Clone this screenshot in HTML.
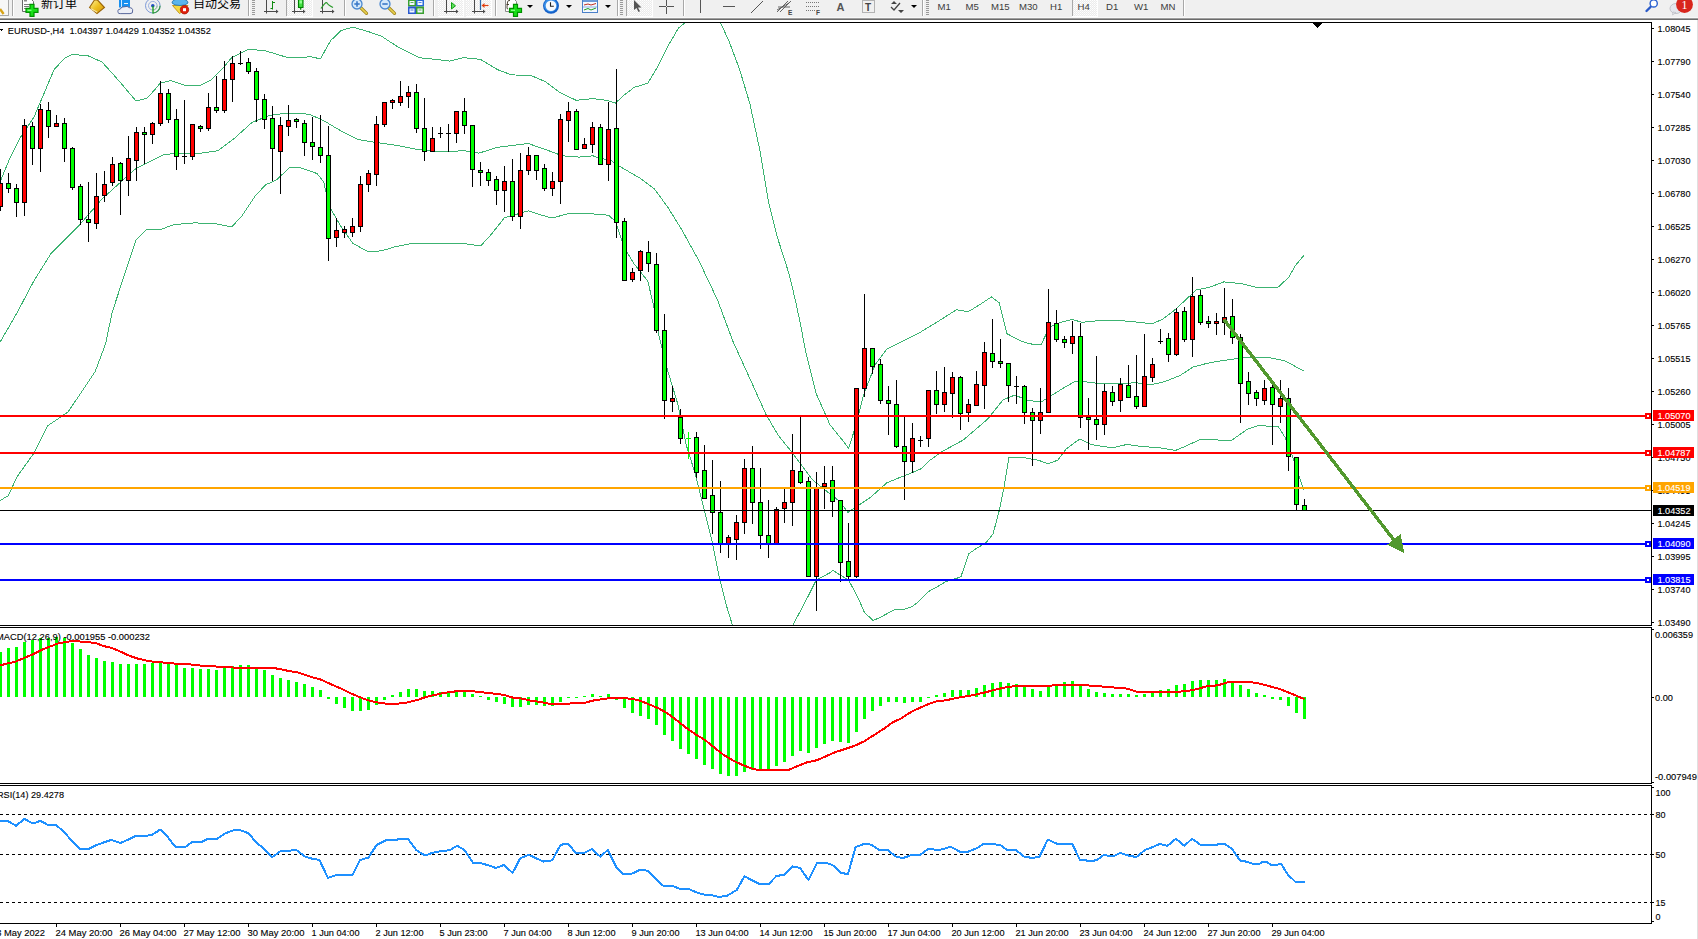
<!DOCTYPE html>
<html><head><meta charset="utf-8"><title>EURUSD-,H4</title>
<style>html,body{margin:0;padding:0;background:#fff;width:1698px;height:939px;overflow:hidden}svg{display:block}text{shape-rendering:auto}</style>
</head><body>
<svg width="1698" height="939" viewBox="0 0 1698 939" shape-rendering="crispEdges">
<rect x="0" y="0" width="1698" height="939" fill="#fff"/>
<g shape-rendering="geometricPrecision">
<rect x="0" y="0" width="1698" height="17" fill="#f0f0f0"/>
<rect x="0" y="17" width="1698" height="1" fill="#f8f8f8"/>
<rect x="0" y="18" width="1698" height="1" fill="#a0a0a0"/>
<rect x="0" y="19" width="1698" height="1" fill="#6b6b6b"/>
<rect x="12" y="0" width="1" height="16" fill="#a8a8a8"/>
<rect x="13" y="0" width="1" height="16" fill="#ffffff"/>
<rect x="248" y="0" width="1" height="16" fill="#a8a8a8"/>
<rect x="249" y="0" width="1" height="16" fill="#ffffff"/>
<rect x="286" y="0" width="1" height="16" fill="#a8a8a8"/>
<rect x="287" y="0" width="1" height="16" fill="#ffffff"/>
<rect x="344" y="0" width="1" height="16" fill="#a8a8a8"/>
<rect x="345" y="0" width="1" height="16" fill="#ffffff"/>
<rect x="433" y="0" width="1" height="16" fill="#a8a8a8"/>
<rect x="434" y="0" width="1" height="16" fill="#ffffff"/>
<rect x="438" y="0" width="1" height="16" fill="#a8a8a8"/>
<rect x="439" y="0" width="1" height="16" fill="#ffffff"/>
<rect x="466" y="0" width="1" height="16" fill="#a8a8a8"/>
<rect x="467" y="0" width="1" height="16" fill="#ffffff"/>
<rect x="495" y="0" width="1" height="16" fill="#a8a8a8"/>
<rect x="496" y="0" width="1" height="16" fill="#ffffff"/>
<rect x="617" y="0" width="1" height="16" fill="#a8a8a8"/>
<rect x="618" y="0" width="1" height="16" fill="#ffffff"/>
<rect x="626" y="0" width="1" height="16" fill="#a8a8a8"/>
<rect x="627" y="0" width="1" height="16" fill="#ffffff"/>
<rect x="683" y="0" width="1" height="16" fill="#a8a8a8"/>
<rect x="684" y="0" width="1" height="16" fill="#ffffff"/>
<rect x="922" y="0" width="1" height="16" fill="#a8a8a8"/>
<rect x="923" y="0" width="1" height="16" fill="#ffffff"/>
<rect x="1183" y="0" width="1" height="16" fill="#a8a8a8"/>
<rect x="1184" y="0" width="1" height="16" fill="#ffffff"/>
<rect x="252" y="0" width="3" height="1" fill="#9a9a9a"/>
<rect x="252" y="2" width="3" height="1" fill="#9a9a9a"/>
<rect x="252" y="4" width="3" height="1" fill="#9a9a9a"/>
<rect x="252" y="6" width="3" height="1" fill="#9a9a9a"/>
<rect x="252" y="8" width="3" height="1" fill="#9a9a9a"/>
<rect x="252" y="10" width="3" height="1" fill="#9a9a9a"/>
<rect x="252" y="12" width="3" height="1" fill="#9a9a9a"/>
<rect x="252" y="14" width="3" height="1" fill="#9a9a9a"/>
<rect x="620" y="0" width="3" height="1" fill="#9a9a9a"/>
<rect x="620" y="2" width="3" height="1" fill="#9a9a9a"/>
<rect x="620" y="4" width="3" height="1" fill="#9a9a9a"/>
<rect x="620" y="6" width="3" height="1" fill="#9a9a9a"/>
<rect x="620" y="8" width="3" height="1" fill="#9a9a9a"/>
<rect x="620" y="10" width="3" height="1" fill="#9a9a9a"/>
<rect x="620" y="12" width="3" height="1" fill="#9a9a9a"/>
<rect x="620" y="14" width="3" height="1" fill="#9a9a9a"/>
<rect x="926" y="0" width="3" height="1" fill="#9a9a9a"/>
<rect x="926" y="2" width="3" height="1" fill="#9a9a9a"/>
<rect x="926" y="4" width="3" height="1" fill="#9a9a9a"/>
<rect x="926" y="6" width="3" height="1" fill="#9a9a9a"/>
<rect x="926" y="8" width="3" height="1" fill="#9a9a9a"/>
<rect x="926" y="10" width="3" height="1" fill="#9a9a9a"/>
<rect x="926" y="12" width="3" height="1" fill="#9a9a9a"/>
<rect x="926" y="14" width="3" height="1" fill="#9a9a9a"/>
<defs><pattern id="chk" x="0" y="0" width="2" height="2" patternUnits="userSpaceOnUse"><rect width="2" height="2" fill="#ececec"/><rect width="1" height="1" fill="#ffffff"/><rect x="1" y="1" width="1" height="1" fill="#f8f8f8"/></pattern></defs>
<rect x="287" y="0" width="25" height="16" fill="url(#chk)"/>
<rect x="312" y="0" width="1" height="17" fill="#ffffff"/><rect x="287" y="16" width="25" height="1" fill="#ffffff"/>
<rect x="438" y="0" width="25" height="16" fill="url(#chk)"/>
<rect x="463" y="0" width="1" height="17" fill="#ffffff"/><rect x="438" y="16" width="25" height="1" fill="#ffffff"/>
<rect x="466" y="0" width="25" height="16" fill="url(#chk)"/>
<rect x="491" y="0" width="1" height="17" fill="#ffffff"/><rect x="466" y="16" width="25" height="1" fill="#ffffff"/>
<rect x="627" y="0" width="25" height="16" fill="url(#chk)"/>
<rect x="652" y="0" width="1" height="17" fill="#ffffff"/><rect x="627" y="16" width="25" height="1" fill="#ffffff"/>
<rect x="1072" y="0" width="25" height="16" fill="url(#chk)"/>
<rect x="1097" y="0" width="1" height="17" fill="#ffffff"/><rect x="1072" y="16" width="25" height="1" fill="#ffffff"/>
<rect x="1072" y="0" width="1" height="16" fill="#a8a8a8"/>
<rect x="-4" y="-1" width="12.5" height="16.5" fill="#f7f7f7" stroke="#a8a8a8"/>
<path d="M0 9 L3.6 14" stroke="#d8a418" stroke-width="2.4"/>
<path d="M22.5 -1 H31 L33.5 1.5 V11.5 H22.5 Z" fill="#fff" stroke="#6a6a6a"/>
<rect x="24" y="-1" width="3" height="2.5" fill="#8a8a8a"/>
<path d="M24 4.5 H30 M24 6.5 H29 M24 8.5 H27" stroke="#7a7a7a"/>
<path d="M30 4.3 L34 4.3 L34 8.3 L38 8.3 L38 12.3 L34 12.3 L34 16.3 L30 16.3 L30 12.3 L26 12.3 L26 8.3 L30 8.3 Z" fill="#18e018" stroke="#009000" stroke-width="1.2"/>
<path d="M27.5 10.3 H31.5" stroke="#90ff90" stroke-width="1.2"/>
<text x="41" y="8.3" font-family="'Liberation Sans', 'Noto Sans CJK SC', 'WenQuanYi Zen Hei', sans-serif" font-size="12" fill="#000">新订单</text>
<defs><linearGradient id="gg" x1="0" y1="0" x2="1" y2="1"><stop offset="0" stop-color="#fff4a0"/><stop offset="0.5" stop-color="#eec020"/><stop offset="1" stop-color="#d09010"/></linearGradient></defs>
<path d="M89.5 7.5 L94.5 0 L97.5 0 L104.5 7.5 L97 13.5 Z" fill="url(#gg)" stroke="#9a6508" stroke-width="1.1"/>
<path d="M90.8 8.6 L97.2 12.3" stroke="#f8e6a0" stroke-width="1.2"/>
<rect x="119" y="-1" width="11" height="8.5" fill="#1890f0"/>
<path d="M121.5 0 V7" stroke="#e8f4ff" stroke-width="0.9"/><path d="M124 3.5 H128" stroke="#e8f4ff"/>
<path d="M118.3 12.8 Q116.8 9.3 120.2 9.2 Q121.2 6.2 125 6.7 Q127.2 5.6 129.2 7.6 Q133.2 7.8 132.6 11 Q133.2 13.6 130 13.6 H120.2 Q118 13.6 118.3 12.8 Z" fill="#eceff6" stroke="#4a5a92" stroke-width="0.9"/>
<circle cx="152.8" cy="5.7" r="7.3" fill="none" stroke="#7d9ad8" stroke-width="1"/>
<circle cx="152.8" cy="5.7" r="4.3" fill="none" stroke="#9ab0e0" stroke-width="1"/>
<path d="M152.8 13 A7.3 7.3 0 0 0 160.1 5.7" fill="none" stroke="#3a9a4a" stroke-width="1.2"/>
<path d="M152.8 10 A4.3 4.3 0 0 0 157.1 5.7" fill="none" stroke="#90c890" stroke-width="1"/>
<circle cx="152.8" cy="5.7" r="1.8" fill="#2050c0"/>
<path d="M153 6 V13.5" stroke="#18a018" stroke-width="1.3"/>
<path d="M172.5 5.5 L188 5.5 L183 11 L179.5 13.5 Z" fill="#f4d840" stroke="#c09010" stroke-width="0.9"/>
<path d="M172 3 Q172 -1 180 -1 Q188 -1 188 3 Q186 5.5 180 5.5 Q174 5.5 172 3 Z" fill="#5ab4ec" stroke="#2a7ab0" stroke-width="0.9"/>
<circle cx="184.5" cy="9.7" r="4.2" fill="#e0200c" stroke="#a81808" stroke-width="0.8"/>
<rect x="183" y="8.2" width="3" height="3" fill="#fff"/>
<text x="193" y="8.3" font-family="'Liberation Sans', 'Noto Sans CJK SC', 'WenQuanYi Zen Hei', sans-serif" font-size="12" fill="#000">自动交易</text>
<path d="M266.5 0 V13.5 M264 11.5 H278" stroke="#4a4a4a" stroke-width="1"/>
<path d="M276 9.5 L278.5 11.5 L276 13.5 Z" fill="#4a4a4a"/>
<path d="M272.5 1 V9.5 M270.5 8.5 H272.5 M272.5 2.5 H275" stroke="#108a10" stroke-width="1"/>
<path d="M294.5 0 V13.5 M292 11.5 H305" stroke="#4a4a4a" stroke-width="1"/>
<path d="M303 9.5 L305.5 11.5 L303 13.5 Z" fill="#4a4a4a"/>
<rect x="298.5" y="-1" width="4.5" height="8.5" fill="#40e040" stroke="#008000" stroke-width="1.1"/>
<rect x="299.5" y="0.5" width="2.5" height="3" fill="#90ff90"/>
<path d="M300.7 7.5 V9.8" stroke="#008000" stroke-width="1.2"/>
<path d="M322.5 0 V13.5 M320 11.5 H334" stroke="#4a4a4a" stroke-width="1"/>
<path d="M332 9.5 L334.5 11.5 L332 13.5 Z" fill="#4a4a4a"/>
<path d="M321 8.5 Q326 1 327 3 T333 7.5" fill="none" stroke="#2a9a2a" stroke-width="1.2"/>
<path d="M360.5 7.5 L366.5 13.3" stroke="#a08418" stroke-width="3.2" stroke-linecap="round"/>
<path d="M360.5 7.5 L366.5 13.3" stroke="#e8d050" stroke-width="1.6" stroke-linecap="round"/>
<circle cx="357" cy="4" r="5" fill="#d4e8fa" stroke="#4a88d0" stroke-width="1.3"/>
<path d="M354.3 4 H359.7" stroke="#3a78c8" stroke-width="1.6"/>
<path d="M357 1.3 V6.7" stroke="#3a78c8" stroke-width="1.6"/>
<path d="M388.5 7.5 L394.5 13.3" stroke="#a08418" stroke-width="3.2" stroke-linecap="round"/>
<path d="M388.5 7.5 L394.5 13.3" stroke="#e8d050" stroke-width="1.6" stroke-linecap="round"/>
<circle cx="385" cy="4" r="5" fill="#d4e8fa" stroke="#4a88d0" stroke-width="1.3"/>
<path d="M382.3 4 H387.7" stroke="#3a78c8" stroke-width="1.6"/>
<rect x="408" y="-1" width="8" height="7.5" fill="#3aa030"/>
<rect x="409.5" y="1" width="5" height="4" fill="#f4f8ff"/>
<path d="M410.5 2.5 H413.5" stroke="#3aa030" stroke-width="0.8"/>
<rect x="416" y="-1" width="8" height="7.5" fill="#2a6ad8"/>
<rect x="417.5" y="1" width="5" height="4" fill="#f4f8ff"/>
<path d="M418.5 2.5 H421.5" stroke="#2a6ad8" stroke-width="0.8"/>
<rect x="408" y="6.5" width="8" height="7.5" fill="#2a5ad0"/>
<rect x="409.5" y="8.5" width="5" height="4" fill="#f4f8ff"/>
<path d="M410.5 10.0 H413.5" stroke="#2a5ad0" stroke-width="0.8"/>
<rect x="416" y="6.5" width="8" height="7.5" fill="#3aa030"/>
<rect x="417.5" y="8.5" width="5" height="4" fill="#f4f8ff"/>
<path d="M418.5 10.0 H421.5" stroke="#3aa030" stroke-width="0.8"/>
<path d="M446.5 0 V13.5 M444 11.5 H458" stroke="#4a4a4a" stroke-width="1"/>
<path d="M456 9.5 L458.5 11.5 L456 13.5 Z" fill="#4a4a4a"/>
<path d="M451.5 2.5 L455.5 5.8 L451.5 9 Z" fill="#60e060" stroke="#10a010" stroke-width="1"/>
<path d="M474.5 0 V13.5 M472 11.5 H485" stroke="#4a4a4a" stroke-width="1"/>
<path d="M483 9.5 L485.5 11.5 L483 13.5 Z" fill="#4a4a4a"/>
<path d="M480.5 0 V10" stroke="#2a68a8" stroke-width="1.2"/><path d="M488.5 5.5 H482.5" stroke="#e04010" stroke-width="1.2"/><path d="M481.5 5.5 L484.5 3 L484.5 8 Z" fill="#e04010"/>
<path d="M505.5 -1 H514 L516.5 1.5 V11.5 H505.5 Z" fill="#fff" stroke="#8a8a8a"/>
<path d="M508 9 Q506.5 9 507 7 L507.5 2 Q508 0 510 0.5 M506.5 4.5 H509" fill="none" stroke="#3a3020" stroke-width="0.9"/>
<path d="M513.5 4.3 L517.5 4.3 L517.5 8.3 L521.5 8.3 L521.5 12.3 L517.5 12.3 L517.5 16.3 L513.5 16.3 L513.5 12.3 L509.5 12.3 L509.5 8.3 L513.5 8.3 Z" fill="#18e018" stroke="#009000" stroke-width="1.2"/>
<path d="M511 10.3 H515" stroke="#90ff90" stroke-width="1.2"/>
<path d="M527 5 H533 L530 8 Z" fill="#000"/>
<path d="M566 5 H572 L569 8 Z" fill="#000"/>
<path d="M605 5 H611 L608 8 Z" fill="#000"/>
<circle cx="551" cy="5.8" r="8" fill="#1560c8"/><circle cx="550.6" cy="5.4" r="6.6" fill="#3a90e8"/><circle cx="551" cy="5.8" r="5.3" fill="#f6f8fc"/>
<path d="M550.5 2.2 V6.2 H553.8" stroke="#222" stroke-width="1.1" fill="none"/>
<rect x="582.5" y="-0.5" width="15" height="13" fill="#f4f8ff" stroke="#4a80c8"/>
<rect x="583" y="0" width="14" height="2" fill="#6a9ad8"/>
<path d="M584 5 L588 4 L591 5 L596 3.5" stroke="#c03020" fill="none"/>
<path d="M584 10 L588 8.5 L591 10 L596 8" stroke="#20a020" fill="none"/>
<path d="M583 7 H597" stroke="#90b0e0"/>
<path d="M634 0 L634 10 L636.5 8 L638.5 12 L640 11.3 L638 7.5 L641.5 7.5 Z" fill="#555"/>
<path d="M659 6.5 H674 M666.5 0 V14" stroke="#555"/>
<rect x="666" y="6" width="1" height="1" fill="#f0f0f0"/>
<path d="M700.5 0 V13" stroke="#555"/>
<path d="M723 6.5 H735" stroke="#555"/>
<path d="M751 13 L763 1" stroke="#555"/>
<path d="M777 12 L788 1 M780 12 L791 1 M778 7 L790 7 M777 10 L789 3" stroke="#555" stroke-width="0.9"/>
<text x="788" y="15" font-family="'Liberation Sans', Arial, sans-serif" font-size="6.5" font-weight="bold" fill="#444">E</text>
<path d="M806 2.5 H819 M806 6.5 H819 M806 10.5 H816" stroke="#777" stroke-dasharray="1 1"/>
<text x="816" y="15" font-family="'Liberation Sans', Arial, sans-serif" font-size="6.5" font-weight="bold" fill="#444">F</text>
<text x="836.5" y="11" font-family="'Liberation Sans', Arial, sans-serif" font-size="11" font-weight="bold" fill="#555">A</text>
<rect x="862.5" y="0.5" width="12" height="12" fill="none" stroke="#777" stroke-dasharray="1 1"/>
<text x="865" y="10.5" font-family="'Liberation Sans', Arial, sans-serif" font-size="10" font-weight="bold" fill="#444">T</text>
<path d="M891 4 L894 1 L897 4 Z M898 10 L901 13 L904 10 Z" fill="#444"/>
<path d="M891 7 L894 10 L900 3" stroke="#444" fill="none" stroke-width="1.3"/>
<path d="M911 5 H917 L914 8 Z" fill="#000"/>
<text x="937.5" y="10.3" font-family="'Liberation Sans', Arial, sans-serif" font-size="9.6" fill="#3c3c3c">M1</text>
<text x="965.5" y="10.3" font-family="'Liberation Sans', Arial, sans-serif" font-size="9.6" fill="#3c3c3c">M5</text>
<text x="991" y="10.3" font-family="'Liberation Sans', Arial, sans-serif" font-size="9.6" fill="#3c3c3c">M15</text>
<text x="1019" y="10.3" font-family="'Liberation Sans', Arial, sans-serif" font-size="9.6" fill="#3c3c3c">M30</text>
<text x="1050" y="10.3" font-family="'Liberation Sans', Arial, sans-serif" font-size="9.6" fill="#3c3c3c">H1</text>
<text x="1077.5" y="10.3" font-family="'Liberation Sans', Arial, sans-serif" font-size="9.6" fill="#3c3c3c">H4</text>
<text x="1106" y="10.3" font-family="'Liberation Sans', Arial, sans-serif" font-size="9.6" fill="#3c3c3c">D1</text>
<text x="1134" y="10.3" font-family="'Liberation Sans', Arial, sans-serif" font-size="9.6" fill="#3c3c3c">W1</text>
<text x="1160.5" y="10.3" font-family="'Liberation Sans', Arial, sans-serif" font-size="9.6" fill="#3c3c3c">MN</text>
<path d="M1646.5 11 L1650.5 7" stroke="#2a5ac8" stroke-width="2.4" stroke-linecap="round"/>
<circle cx="1653.7" cy="3.4" r="3.6" fill="#fff" stroke="#2a60d0" stroke-width="1.4"/>
<ellipse cx="1676" cy="8.5" rx="6" ry="5" fill="#e4e6ec" stroke="#c0c2c8"/>
<path d="M1673 12 L1672.5 15 L1676 12.5 Z" fill="#e4e6ec" stroke="#c0c2c8" stroke-width="0.8"/>
<circle cx="1684.5" cy="4.6" r="8.4" fill="#d8261c"/>
<text x="1684.5" y="9" font-family="'Liberation Serif', serif" font-size="12" fill="#fff" text-anchor="middle">1</text>
</g>
<defs><clipPath id="cm"><rect x="0" y="23" width="1651" height="602"/></clipPath><clipPath id="cmacd"><rect x="0" y="628" width="1651" height="155"/></clipPath><clipPath id="crsi"><rect x="0" y="786" width="1651" height="137"/></clipPath></defs>
<g clip-path="url(#cm)">
<polyline points="0,182 10,158 20,138 34,117 44,93.5 54,69.7 65,57.7 73,54.3 88.5,56 102,62 112,73 122.5,85 136,101 146,98.6 150,95.2 160.2,83.3 170.4,80.6 184,85 201,85 211.3,79.9 221.5,69.7 231.7,57.7 248.7,49.2 265.7,50.9 286.2,57.1 300,57.7 310.2,56.7 320.4,58.8 330.6,40.7 340.9,30.5 352.8,27.1 368.1,31.5 381.7,36.3 398.7,47.5 419.1,57.7 436.2,59.4 449.8,61.1 463.6,57.7 480.6,59.4 497.7,69.7 511.3,74.8 531.7,75.8 545.3,81.6 558.9,91.8 576,100.3 593,98.6 606.8,100.4 615.3,103.1 623.9,95.3 634.1,87.4 647.7,83.3 657.9,66.3 668.1,45.9 678.4,28.1 688.6,20 704,8 719.3,20 729.5,42.4 739.7,69.7 749.9,103.8 760.1,151.5 768.7,202.6 777.2,236.7 789.1,274.1 795.3,300 800,321.8 805.7,351.9 816.1,393.4 829.9,424.6 843.8,441.9 848.5,448.3 855.5,427 863.3,395.9 875,364.9 886.6,349.3 902.1,341.6 917.7,333.8 937.1,322.1 956.5,309.7 968.2,311.7 979.8,304.7 991.5,296.9 999.2,302.7 1007,333.8 1022.5,341.6 1030,343.9 1041.1,344.7 1049.4,327.3 1060.5,322.5 1071.6,319.5 1082.6,322.3 1102,320.3 1124.2,320.9 1140.8,322.5 1151.9,323.9 1163,319 1174,310.6 1185.1,300.4 1196.2,289.9 1210,287.1 1223.8,281.9 1240.9,283.6 1257.9,287.7 1278.3,287 1288.6,277.5 1295.4,265.5 1303.9,255.3" fill="none" stroke="#3cb371" stroke-width="1"/>
<polyline points="0,342.3 18,311 34,280.7 51,253.5 78.3,226.3 102,199 136,168.4 150,161.6 163.6,154.8 177.2,153.1 194.3,154.1 218.1,150.7 235.1,137.7 252.1,122.4 269.1,115.6 286.2,113.2 300,113.2 310.2,114.6 323.8,120.7 340.9,130.9 357.9,139.4 371.5,141.8 395.3,145.2 419.1,149.7 436.2,151.4 450,151.4 463.6,150.7 478.9,153.1 497.7,147.3 528.3,143.5 548.7,150.7 562.3,155.8 579.4,157.1 593,155.8 600,158.3 610.2,160 620.4,166.8 640.9,178.7 654.5,189 668.1,207.7 681.8,229.8 698.8,260.5 717.5,300 733,341.5 750.3,379.6 765.9,414.2 778,435 791.9,452.2 802.2,466.1 812.6,479.9 829.9,493.8 840,501.6 847.8,512.4 859.4,504.7 871.1,496.9 886.6,483 900,477.4 907.7,474.5 921.1,468.8 928.8,461.1 942.2,451.5 963.3,440 987.6,419.2 1003.1,399.8 1014.8,395.1 1026.4,399.8 1030,400.7 1041.1,402 1052.2,395.1 1063.2,388.2 1074.3,381.8 1085.4,381.8 1099.3,383.5 1118.6,384 1135.3,382.7 1151.9,384.6 1165.7,381.3 1179.6,375.7 1193.4,366.9 1207.3,363.3 1220.4,360.9 1244.3,357.5 1268.1,357.5 1285.1,360.9 1303.9,371.1" fill="none" stroke="#3cb371" stroke-width="1"/>
<polyline points="0,500.6 8.5,495.5 17,476.8 34,453 47.7,425.7 68,412.1 81.7,391.7 95.3,371.3 105.5,344 112.3,312 122.5,280.7 136,239.9 146.4,229.7 150,229 160.2,229.7 173.8,224.6 194.3,222.9 214.7,223.5 231.7,226.9 241.9,216 255.5,195.6 265.7,184.7 276,180.3 289.6,167.7 300,167.7 317,173.5 323.8,182 328.9,205.8 340.9,226.3 352.8,243.3 368.1,251.8 381.7,250.8 395.3,246.7 412.3,243.3 436.2,243.3 450,243.3 467,244 480.6,246 490.9,234.8 504.5,217.7 528.3,210.9 538.5,214.3 552.1,218.1 569.1,213.3 586.2,213.3 600,214.5 608.5,215.2 615.3,221.3 623.9,246.9 634.1,263.9 647.7,281 653.5,305 658.7,334.6 667.3,369.2 677.7,403.8 686.3,445.3 695,473 703.6,507.6 712.3,542.2 719.2,576.8 726.1,604.5 733,627 760,680 791.9,627 805.7,601 816.1,580.3 830,572.7 833,570.4 841.2,575.7 848.6,580.1 854.6,591.3 859.8,601.8 864.3,612.2 872.9,620.4 878.5,618.2 894.9,609.6 904.8,609.1 912.5,606.4 919.2,601 928.8,591.4 938.3,586.1 946,581.5 957.5,578 961,576.5 969,553.5 976.7,548.3 986.3,542.5 993,533.9 999.7,509 1004.5,484.1 1008.9,457.6 1022.5,457.3 1030,458.8 1038.3,460.2 1048,463.8 1057.7,460.2 1066,449.1 1079.9,438.9 1090.9,444.4 1102,446.4 1113.1,447.8 1127,444.4 1140.8,446.4 1160.2,447.8 1175.4,450.5 1185.1,446.4 1199,440 1210,439.4 1230.7,441 1247.7,429 1257.9,425.6 1278.3,426.6 1285.1,437.5 1292,454.6 1298.8,475 1303.9,490.3" fill="none" stroke="#3cb371" stroke-width="1"/>
<rect x="0" y="169" width="1" height="42" fill="#000"/>
<rect x="-2" y="183" width="5" height="24" fill="#000"/>
<rect x="-1" y="184" width="3" height="22" fill="#ff0000"/>
<rect x="8" y="173" width="1" height="20" fill="#000"/>
<rect x="6" y="183" width="5" height="6" fill="#000"/>
<rect x="7" y="184" width="3" height="4" fill="#00ff00"/>
<rect x="16" y="184" width="1" height="33" fill="#000"/>
<rect x="14" y="188" width="5" height="15" fill="#000"/>
<rect x="15" y="189" width="3" height="13" fill="#00ff00"/>
<rect x="24" y="119" width="1" height="97" fill="#000"/>
<rect x="22" y="125" width="5" height="78" fill="#000"/>
<rect x="23" y="126" width="3" height="76" fill="#ff0000"/>
<rect x="32" y="122" width="1" height="43" fill="#000"/>
<rect x="30" y="126" width="5" height="23" fill="#000"/>
<rect x="31" y="127" width="3" height="21" fill="#00ff00"/>
<rect x="40" y="104" width="1" height="68" fill="#000"/>
<rect x="38" y="109" width="5" height="40" fill="#000"/>
<rect x="39" y="110" width="3" height="38" fill="#ff0000"/>
<rect x="48" y="102" width="1" height="36" fill="#000"/>
<rect x="46" y="110" width="5" height="17" fill="#000"/>
<rect x="47" y="111" width="3" height="15" fill="#00ff00"/>
<rect x="56" y="115" width="1" height="11" fill="#000"/>
<rect x="54" y="123" width="5" height="4" fill="#000"/>
<rect x="55" y="124" width="3" height="2" fill="#ff0000"/>
<rect x="64" y="118" width="1" height="44" fill="#000"/>
<rect x="62" y="123" width="5" height="26" fill="#000"/>
<rect x="63" y="124" width="3" height="24" fill="#00ff00"/>
<rect x="72" y="147" width="1" height="43" fill="#000"/>
<rect x="70" y="148" width="5" height="40" fill="#000"/>
<rect x="71" y="149" width="3" height="38" fill="#00ff00"/>
<rect x="80" y="184" width="1" height="41" fill="#000"/>
<rect x="78" y="186" width="5" height="34" fill="#000"/>
<rect x="79" y="187" width="3" height="32" fill="#00ff00"/>
<rect x="88" y="182" width="1" height="60" fill="#000"/>
<rect x="86" y="219" width="5" height="4" fill="#000"/>
<rect x="87" y="220" width="3" height="2" fill="#00ff00"/>
<rect x="96" y="173" width="1" height="56" fill="#000"/>
<rect x="94" y="196" width="5" height="28" fill="#000"/>
<rect x="95" y="197" width="3" height="26" fill="#ff0000"/>
<rect x="104" y="171" width="1" height="31" fill="#000"/>
<rect x="102" y="184" width="5" height="12" fill="#000"/>
<rect x="103" y="185" width="3" height="10" fill="#ff0000"/>
<rect x="112" y="157" width="1" height="29" fill="#000"/>
<rect x="110" y="164" width="5" height="19" fill="#000"/>
<rect x="111" y="165" width="3" height="17" fill="#ff0000"/>
<rect x="120" y="162" width="1" height="53" fill="#000"/>
<rect x="118" y="163" width="5" height="18" fill="#000"/>
<rect x="119" y="164" width="3" height="16" fill="#00ff00"/>
<rect x="128" y="136" width="1" height="60" fill="#000"/>
<rect x="126" y="158" width="5" height="23" fill="#000"/>
<rect x="127" y="159" width="3" height="21" fill="#ff0000"/>
<rect x="136" y="127" width="1" height="54" fill="#000"/>
<rect x="134" y="132" width="5" height="29" fill="#000"/>
<rect x="135" y="133" width="3" height="27" fill="#ff0000"/>
<rect x="144" y="127" width="1" height="37" fill="#000"/>
<rect x="142" y="132" width="5" height="3" fill="#000"/>
<rect x="143" y="133" width="3" height="1" fill="#00ff00"/>
<rect x="152" y="122" width="1" height="22" fill="#000"/>
<rect x="150" y="123" width="5" height="12" fill="#000"/>
<rect x="151" y="124" width="3" height="10" fill="#ff0000"/>
<rect x="160" y="81" width="1" height="45" fill="#000"/>
<rect x="158" y="93" width="5" height="31" fill="#000"/>
<rect x="159" y="94" width="3" height="29" fill="#ff0000"/>
<rect x="168" y="89" width="1" height="34" fill="#000"/>
<rect x="166" y="93" width="5" height="27" fill="#000"/>
<rect x="167" y="94" width="3" height="25" fill="#00ff00"/>
<rect x="176" y="109" width="1" height="61" fill="#000"/>
<rect x="174" y="119" width="5" height="38" fill="#000"/>
<rect x="175" y="120" width="3" height="36" fill="#00ff00"/>
<rect x="184" y="100" width="1" height="64" fill="#000"/>
<rect x="182" y="156" width="5" height="1" fill="#000"/>
<rect x="192" y="124" width="1" height="36" fill="#000"/>
<rect x="190" y="124" width="5" height="33" fill="#000"/>
<rect x="191" y="125" width="3" height="31" fill="#ff0000"/>
<rect x="200" y="125" width="1" height="7" fill="#000"/>
<rect x="198" y="126" width="5" height="3" fill="#000"/>
<rect x="199" y="127" width="3" height="1" fill="#00ff00"/>
<rect x="208" y="93" width="1" height="38" fill="#000"/>
<rect x="206" y="107" width="5" height="22" fill="#000"/>
<rect x="207" y="108" width="3" height="20" fill="#ff0000"/>
<rect x="216" y="76" width="1" height="37" fill="#000"/>
<rect x="214" y="107" width="5" height="4" fill="#000"/>
<rect x="215" y="108" width="3" height="2" fill="#00ff00"/>
<rect x="224" y="61" width="1" height="52" fill="#000"/>
<rect x="222" y="79" width="5" height="32" fill="#000"/>
<rect x="223" y="80" width="3" height="30" fill="#ff0000"/>
<rect x="232" y="56" width="1" height="46" fill="#000"/>
<rect x="230" y="63" width="5" height="17" fill="#000"/>
<rect x="231" y="64" width="3" height="15" fill="#ff0000"/>
<rect x="240" y="51" width="1" height="14" fill="#000"/>
<rect x="238" y="63" width="5" height="1" fill="#000"/>
<rect x="248" y="58" width="1" height="16" fill="#000"/>
<rect x="246" y="62" width="5" height="10" fill="#000"/>
<rect x="247" y="63" width="3" height="8" fill="#00ff00"/>
<rect x="256" y="68" width="1" height="54" fill="#000"/>
<rect x="254" y="71" width="5" height="29" fill="#000"/>
<rect x="255" y="72" width="3" height="27" fill="#00ff00"/>
<rect x="264" y="94" width="1" height="35" fill="#000"/>
<rect x="262" y="99" width="5" height="21" fill="#000"/>
<rect x="263" y="100" width="3" height="19" fill="#00ff00"/>
<rect x="272" y="106" width="1" height="75" fill="#000"/>
<rect x="270" y="118" width="5" height="31" fill="#000"/>
<rect x="271" y="119" width="3" height="29" fill="#00ff00"/>
<rect x="280" y="117" width="1" height="77" fill="#000"/>
<rect x="278" y="125" width="5" height="27" fill="#000"/>
<rect x="279" y="126" width="3" height="25" fill="#ff0000"/>
<rect x="288" y="105" width="1" height="31" fill="#000"/>
<rect x="286" y="120" width="5" height="7" fill="#000"/>
<rect x="287" y="121" width="3" height="5" fill="#ff0000"/>
<rect x="296" y="118" width="1" height="10" fill="#000"/>
<rect x="294" y="119" width="5" height="3" fill="#000"/>
<rect x="295" y="120" width="3" height="1" fill="#00ff00"/>
<rect x="304" y="120" width="1" height="36" fill="#000"/>
<rect x="302" y="123" width="5" height="20" fill="#000"/>
<rect x="303" y="124" width="3" height="18" fill="#00ff00"/>
<rect x="312" y="117" width="1" height="43" fill="#000"/>
<rect x="310" y="142" width="5" height="5" fill="#000"/>
<rect x="311" y="143" width="3" height="3" fill="#00ff00"/>
<rect x="320" y="115" width="1" height="48" fill="#000"/>
<rect x="318" y="147" width="5" height="9" fill="#000"/>
<rect x="319" y="148" width="3" height="7" fill="#00ff00"/>
<rect x="328" y="126" width="1" height="135" fill="#000"/>
<rect x="326" y="155" width="5" height="84" fill="#000"/>
<rect x="327" y="156" width="3" height="82" fill="#00ff00"/>
<rect x="336" y="218" width="1" height="29" fill="#000"/>
<rect x="334" y="230" width="5" height="8" fill="#000"/>
<rect x="335" y="231" width="3" height="6" fill="#ff0000"/>
<rect x="344" y="226" width="1" height="12" fill="#000"/>
<rect x="342" y="229" width="5" height="4" fill="#000"/>
<rect x="343" y="230" width="3" height="2" fill="#ff0000"/>
<rect x="352" y="218" width="1" height="19" fill="#000"/>
<rect x="350" y="226" width="5" height="7" fill="#000"/>
<rect x="351" y="227" width="3" height="5" fill="#ff0000"/>
<rect x="360" y="176" width="1" height="56" fill="#000"/>
<rect x="358" y="184" width="5" height="43" fill="#000"/>
<rect x="359" y="185" width="3" height="41" fill="#ff0000"/>
<rect x="368" y="170" width="1" height="22" fill="#000"/>
<rect x="366" y="173" width="5" height="12" fill="#000"/>
<rect x="367" y="174" width="3" height="10" fill="#ff0000"/>
<rect x="376" y="116" width="1" height="70" fill="#000"/>
<rect x="374" y="124" width="5" height="51" fill="#000"/>
<rect x="375" y="125" width="3" height="49" fill="#ff0000"/>
<rect x="384" y="102" width="1" height="25" fill="#000"/>
<rect x="382" y="102" width="5" height="23" fill="#000"/>
<rect x="383" y="103" width="3" height="21" fill="#ff0000"/>
<rect x="392" y="99" width="1" height="10" fill="#000"/>
<rect x="390" y="100" width="5" height="3" fill="#000"/>
<rect x="391" y="101" width="3" height="1" fill="#ff0000"/>
<rect x="400" y="81" width="1" height="25" fill="#000"/>
<rect x="398" y="96" width="5" height="7" fill="#000"/>
<rect x="399" y="97" width="3" height="5" fill="#ff0000"/>
<rect x="408" y="86" width="1" height="22" fill="#000"/>
<rect x="406" y="92" width="5" height="5" fill="#000"/>
<rect x="407" y="93" width="3" height="3" fill="#ff0000"/>
<rect x="416" y="84" width="1" height="49" fill="#000"/>
<rect x="414" y="92" width="5" height="37" fill="#000"/>
<rect x="415" y="93" width="3" height="35" fill="#00ff00"/>
<rect x="424" y="98" width="1" height="63" fill="#000"/>
<rect x="422" y="128" width="5" height="24" fill="#000"/>
<rect x="423" y="129" width="3" height="22" fill="#00ff00"/>
<rect x="432" y="127" width="1" height="24" fill="#000"/>
<rect x="430" y="138" width="5" height="14" fill="#000"/>
<rect x="431" y="139" width="3" height="12" fill="#ff0000"/>
<rect x="440" y="127" width="1" height="11" fill="#000"/>
<rect x="438" y="133" width="5" height="1" fill="#000"/>
<rect x="448" y="124" width="1" height="28" fill="#000"/>
<rect x="446" y="133" width="5" height="1" fill="#000"/>
<rect x="456" y="111" width="1" height="32" fill="#000"/>
<rect x="454" y="111" width="5" height="23" fill="#000"/>
<rect x="455" y="112" width="3" height="21" fill="#ff0000"/>
<rect x="464" y="98" width="1" height="36" fill="#000"/>
<rect x="462" y="111" width="5" height="15" fill="#000"/>
<rect x="463" y="112" width="3" height="13" fill="#00ff00"/>
<rect x="472" y="125" width="1" height="62" fill="#000"/>
<rect x="470" y="125" width="5" height="45" fill="#000"/>
<rect x="471" y="126" width="3" height="43" fill="#00ff00"/>
<rect x="480" y="162" width="1" height="24" fill="#000"/>
<rect x="478" y="170" width="5" height="3" fill="#000"/>
<rect x="479" y="171" width="3" height="1" fill="#00ff00"/>
<rect x="488" y="169" width="1" height="17" fill="#000"/>
<rect x="486" y="172" width="5" height="9" fill="#000"/>
<rect x="487" y="173" width="3" height="7" fill="#00ff00"/>
<rect x="496" y="176" width="1" height="29" fill="#000"/>
<rect x="494" y="179" width="5" height="12" fill="#000"/>
<rect x="495" y="180" width="3" height="10" fill="#00ff00"/>
<rect x="504" y="166" width="1" height="46" fill="#000"/>
<rect x="502" y="181" width="5" height="10" fill="#000"/>
<rect x="503" y="182" width="3" height="8" fill="#ff0000"/>
<rect x="512" y="159" width="1" height="62" fill="#000"/>
<rect x="510" y="181" width="5" height="36" fill="#000"/>
<rect x="511" y="182" width="3" height="34" fill="#00ff00"/>
<rect x="520" y="153" width="1" height="76" fill="#000"/>
<rect x="518" y="170" width="5" height="47" fill="#000"/>
<rect x="519" y="171" width="3" height="45" fill="#ff0000"/>
<rect x="528" y="147" width="1" height="28" fill="#000"/>
<rect x="526" y="155" width="5" height="16" fill="#000"/>
<rect x="527" y="156" width="3" height="14" fill="#ff0000"/>
<rect x="536" y="155" width="1" height="25" fill="#000"/>
<rect x="534" y="155" width="5" height="16" fill="#000"/>
<rect x="535" y="156" width="3" height="14" fill="#00ff00"/>
<rect x="544" y="164" width="1" height="27" fill="#000"/>
<rect x="542" y="168" width="5" height="21" fill="#000"/>
<rect x="543" y="169" width="3" height="19" fill="#00ff00"/>
<rect x="552" y="172" width="1" height="24" fill="#000"/>
<rect x="550" y="181" width="5" height="8" fill="#000"/>
<rect x="551" y="182" width="3" height="6" fill="#ff0000"/>
<rect x="560" y="114" width="1" height="90" fill="#000"/>
<rect x="558" y="119" width="5" height="63" fill="#000"/>
<rect x="559" y="120" width="3" height="61" fill="#ff0000"/>
<rect x="568" y="102" width="1" height="40" fill="#000"/>
<rect x="566" y="111" width="5" height="10" fill="#000"/>
<rect x="567" y="112" width="3" height="8" fill="#ff0000"/>
<rect x="576" y="109" width="1" height="41" fill="#000"/>
<rect x="574" y="111" width="5" height="39" fill="#000"/>
<rect x="575" y="112" width="3" height="37" fill="#00ff00"/>
<rect x="584" y="138" width="1" height="11" fill="#000"/>
<rect x="582" y="144" width="5" height="5" fill="#000"/>
<rect x="583" y="145" width="3" height="3" fill="#ff0000"/>
<rect x="592" y="122" width="1" height="31" fill="#000"/>
<rect x="590" y="127" width="5" height="18" fill="#000"/>
<rect x="591" y="128" width="3" height="16" fill="#ff0000"/>
<rect x="600" y="124" width="1" height="40" fill="#000"/>
<rect x="598" y="127" width="5" height="38" fill="#000"/>
<rect x="599" y="128" width="3" height="36" fill="#00ff00"/>
<rect x="608" y="102" width="1" height="79" fill="#000"/>
<rect x="606" y="129" width="5" height="36" fill="#000"/>
<rect x="607" y="130" width="3" height="34" fill="#ff0000"/>
<rect x="616" y="69" width="1" height="169" fill="#000"/>
<rect x="614" y="128" width="5" height="95" fill="#000"/>
<rect x="615" y="129" width="3" height="93" fill="#00ff00"/>
<rect x="624" y="218" width="1" height="62" fill="#000"/>
<rect x="622" y="221" width="5" height="60" fill="#000"/>
<rect x="623" y="222" width="3" height="58" fill="#00ff00"/>
<rect x="632" y="268" width="1" height="14" fill="#000"/>
<rect x="630" y="272" width="5" height="8" fill="#000"/>
<rect x="631" y="273" width="3" height="6" fill="#ff0000"/>
<rect x="640" y="250" width="1" height="31" fill="#000"/>
<rect x="638" y="251" width="5" height="20" fill="#000"/>
<rect x="639" y="252" width="3" height="18" fill="#ff0000"/>
<rect x="648" y="241" width="1" height="31" fill="#000"/>
<rect x="646" y="252" width="5" height="12" fill="#000"/>
<rect x="647" y="253" width="3" height="10" fill="#00ff00"/>
<rect x="656" y="253" width="1" height="80" fill="#000"/>
<rect x="654" y="264" width="5" height="67" fill="#000"/>
<rect x="655" y="265" width="3" height="65" fill="#00ff00"/>
<rect x="664" y="314" width="1" height="105" fill="#000"/>
<rect x="662" y="330" width="5" height="71" fill="#000"/>
<rect x="663" y="331" width="3" height="69" fill="#00ff00"/>
<rect x="672" y="386" width="1" height="26" fill="#000"/>
<rect x="670" y="398" width="5" height="4" fill="#000"/>
<rect x="671" y="399" width="3" height="2" fill="#ff0000"/>
<rect x="680" y="409" width="1" height="35" fill="#000"/>
<rect x="678" y="417" width="5" height="22" fill="#000"/>
<rect x="679" y="418" width="3" height="20" fill="#00ff00"/>
<rect x="688" y="432" width="1" height="27" fill="#00ff00"/>
<rect x="686" y="438" width="5" height="1" fill="#00ff00"/>
<rect x="696" y="432" width="1" height="46" fill="#000"/>
<rect x="694" y="437" width="5" height="36" fill="#000"/>
<rect x="695" y="438" width="3" height="34" fill="#00ff00"/>
<rect x="704" y="445" width="1" height="54" fill="#000"/>
<rect x="702" y="470" width="5" height="29" fill="#000"/>
<rect x="703" y="471" width="3" height="27" fill="#00ff00"/>
<rect x="712" y="460" width="1" height="74" fill="#000"/>
<rect x="710" y="495" width="5" height="18" fill="#000"/>
<rect x="711" y="496" width="3" height="16" fill="#00ff00"/>
<rect x="720" y="481" width="1" height="72" fill="#000"/>
<rect x="718" y="512" width="5" height="33" fill="#000"/>
<rect x="719" y="513" width="3" height="31" fill="#00ff00"/>
<rect x="728" y="535" width="1" height="23" fill="#000"/>
<rect x="726" y="537" width="5" height="8" fill="#000"/>
<rect x="727" y="538" width="3" height="6" fill="#ff0000"/>
<rect x="736" y="515" width="1" height="45" fill="#000"/>
<rect x="734" y="522" width="5" height="18" fill="#000"/>
<rect x="735" y="523" width="3" height="16" fill="#ff0000"/>
<rect x="744" y="459" width="1" height="75" fill="#000"/>
<rect x="742" y="468" width="5" height="55" fill="#000"/>
<rect x="743" y="469" width="3" height="53" fill="#ff0000"/>
<rect x="752" y="446" width="1" height="78" fill="#000"/>
<rect x="750" y="468" width="5" height="35" fill="#000"/>
<rect x="751" y="469" width="3" height="33" fill="#00ff00"/>
<rect x="760" y="468" width="1" height="81" fill="#000"/>
<rect x="758" y="502" width="5" height="34" fill="#000"/>
<rect x="759" y="503" width="3" height="32" fill="#00ff00"/>
<rect x="768" y="500" width="1" height="58" fill="#000"/>
<rect x="766" y="535" width="5" height="10" fill="#000"/>
<rect x="767" y="536" width="3" height="8" fill="#00ff00"/>
<rect x="776" y="507" width="1" height="37" fill="#000"/>
<rect x="774" y="509" width="5" height="36" fill="#000"/>
<rect x="775" y="510" width="3" height="34" fill="#ff0000"/>
<rect x="784" y="489" width="1" height="34" fill="#000"/>
<rect x="782" y="502" width="5" height="7" fill="#000"/>
<rect x="783" y="503" width="3" height="5" fill="#ff0000"/>
<rect x="792" y="434" width="1" height="92" fill="#000"/>
<rect x="790" y="470" width="5" height="33" fill="#000"/>
<rect x="791" y="471" width="3" height="31" fill="#ff0000"/>
<rect x="800" y="416" width="1" height="68" fill="#000"/>
<rect x="798" y="471" width="5" height="12" fill="#000"/>
<rect x="799" y="472" width="3" height="10" fill="#00ff00"/>
<rect x="808" y="477" width="1" height="100" fill="#000"/>
<rect x="806" y="481" width="5" height="96" fill="#000"/>
<rect x="807" y="482" width="3" height="94" fill="#00ff00"/>
<rect x="816" y="472" width="1" height="139" fill="#000"/>
<rect x="814" y="487" width="5" height="90" fill="#000"/>
<rect x="815" y="488" width="3" height="88" fill="#ff0000"/>
<rect x="824" y="466" width="1" height="43" fill="#000"/>
<rect x="822" y="483" width="5" height="4" fill="#000"/>
<rect x="823" y="484" width="3" height="2" fill="#ff0000"/>
<rect x="832" y="466" width="1" height="51" fill="#000"/>
<rect x="830" y="480" width="5" height="22" fill="#000"/>
<rect x="831" y="481" width="3" height="20" fill="#00ff00"/>
<rect x="840" y="500" width="1" height="82" fill="#000"/>
<rect x="838" y="500" width="5" height="63" fill="#000"/>
<rect x="839" y="501" width="3" height="61" fill="#00ff00"/>
<rect x="848" y="523" width="1" height="56" fill="#000"/>
<rect x="846" y="561" width="5" height="16" fill="#000"/>
<rect x="847" y="562" width="3" height="14" fill="#00ff00"/>
<rect x="856" y="388" width="1" height="190" fill="#000"/>
<rect x="854" y="388" width="5" height="189" fill="#000"/>
<rect x="855" y="389" width="3" height="187" fill="#ff0000"/>
<rect x="864" y="294" width="1" height="103" fill="#000"/>
<rect x="862" y="348" width="5" height="41" fill="#000"/>
<rect x="863" y="349" width="3" height="39" fill="#ff0000"/>
<rect x="872" y="348" width="1" height="26" fill="#000"/>
<rect x="870" y="348" width="5" height="19" fill="#000"/>
<rect x="871" y="349" width="3" height="17" fill="#00ff00"/>
<rect x="880" y="359" width="1" height="45" fill="#000"/>
<rect x="878" y="364" width="5" height="37" fill="#000"/>
<rect x="879" y="365" width="3" height="35" fill="#00ff00"/>
<rect x="888" y="386" width="1" height="49" fill="#000"/>
<rect x="886" y="400" width="5" height="4" fill="#000"/>
<rect x="887" y="401" width="3" height="2" fill="#00ff00"/>
<rect x="896" y="380" width="1" height="68" fill="#000"/>
<rect x="894" y="404" width="5" height="43" fill="#000"/>
<rect x="895" y="405" width="3" height="41" fill="#00ff00"/>
<rect x="904" y="417" width="1" height="83" fill="#000"/>
<rect x="902" y="446" width="5" height="16" fill="#000"/>
<rect x="903" y="447" width="3" height="14" fill="#00ff00"/>
<rect x="912" y="423" width="1" height="50" fill="#000"/>
<rect x="910" y="438" width="5" height="24" fill="#000"/>
<rect x="911" y="439" width="3" height="22" fill="#ff0000"/>
<rect x="920" y="436" width="1" height="11" fill="#000"/>
<rect x="918" y="440" width="5" height="1" fill="#000"/>
<rect x="928" y="390" width="1" height="57" fill="#000"/>
<rect x="926" y="390" width="5" height="49" fill="#000"/>
<rect x="927" y="391" width="3" height="47" fill="#ff0000"/>
<rect x="936" y="371" width="1" height="43" fill="#000"/>
<rect x="934" y="390" width="5" height="15" fill="#000"/>
<rect x="935" y="391" width="3" height="13" fill="#00ff00"/>
<rect x="944" y="367" width="1" height="45" fill="#000"/>
<rect x="942" y="392" width="5" height="13" fill="#000"/>
<rect x="943" y="393" width="3" height="11" fill="#ff0000"/>
<rect x="952" y="372" width="1" height="46" fill="#000"/>
<rect x="950" y="377" width="5" height="17" fill="#000"/>
<rect x="951" y="378" width="3" height="15" fill="#ff0000"/>
<rect x="960" y="376" width="1" height="54" fill="#000"/>
<rect x="958" y="377" width="5" height="37" fill="#000"/>
<rect x="959" y="378" width="3" height="35" fill="#00ff00"/>
<rect x="968" y="399" width="1" height="23" fill="#000"/>
<rect x="966" y="404" width="5" height="9" fill="#000"/>
<rect x="967" y="405" width="3" height="7" fill="#ff0000"/>
<rect x="976" y="371" width="1" height="34" fill="#000"/>
<rect x="974" y="384" width="5" height="22" fill="#000"/>
<rect x="975" y="385" width="3" height="20" fill="#ff0000"/>
<rect x="984" y="342" width="1" height="67" fill="#000"/>
<rect x="982" y="352" width="5" height="34" fill="#000"/>
<rect x="983" y="353" width="3" height="32" fill="#ff0000"/>
<rect x="992" y="319" width="1" height="49" fill="#000"/>
<rect x="990" y="353" width="5" height="9" fill="#000"/>
<rect x="991" y="354" width="3" height="7" fill="#00ff00"/>
<rect x="1000" y="339" width="1" height="29" fill="#000"/>
<rect x="998" y="361" width="5" height="3" fill="#000"/>
<rect x="999" y="362" width="3" height="1" fill="#00ff00"/>
<rect x="1008" y="363" width="1" height="39" fill="#000"/>
<rect x="1006" y="363" width="5" height="23" fill="#000"/>
<rect x="1007" y="364" width="3" height="21" fill="#00ff00"/>
<rect x="1016" y="376" width="1" height="28" fill="#000"/>
<rect x="1014" y="386" width="5" height="1" fill="#000"/>
<rect x="1024" y="385" width="1" height="39" fill="#000"/>
<rect x="1022" y="386" width="5" height="27" fill="#000"/>
<rect x="1023" y="387" width="3" height="25" fill="#00ff00"/>
<rect x="1032" y="408" width="1" height="58" fill="#000"/>
<rect x="1030" y="412" width="5" height="9" fill="#000"/>
<rect x="1031" y="413" width="3" height="7" fill="#00ff00"/>
<rect x="1040" y="388" width="1" height="46" fill="#000"/>
<rect x="1038" y="412" width="5" height="9" fill="#000"/>
<rect x="1039" y="413" width="3" height="7" fill="#ff0000"/>
<rect x="1048" y="289" width="1" height="123" fill="#000"/>
<rect x="1046" y="322" width="5" height="91" fill="#000"/>
<rect x="1047" y="323" width="3" height="89" fill="#ff0000"/>
<rect x="1056" y="310" width="1" height="32" fill="#000"/>
<rect x="1054" y="323" width="5" height="17" fill="#000"/>
<rect x="1055" y="324" width="3" height="15" fill="#00ff00"/>
<rect x="1064" y="336" width="1" height="12" fill="#000"/>
<rect x="1062" y="339" width="5" height="4" fill="#000"/>
<rect x="1063" y="340" width="3" height="2" fill="#00ff00"/>
<rect x="1072" y="321" width="1" height="33" fill="#000"/>
<rect x="1070" y="336" width="5" height="8" fill="#000"/>
<rect x="1071" y="337" width="3" height="6" fill="#ff0000"/>
<rect x="1080" y="323" width="1" height="105" fill="#000"/>
<rect x="1078" y="336" width="5" height="82" fill="#000"/>
<rect x="1079" y="337" width="3" height="80" fill="#00ff00"/>
<rect x="1088" y="398" width="1" height="52" fill="#000"/>
<rect x="1086" y="417" width="5" height="3" fill="#000"/>
<rect x="1087" y="418" width="3" height="1" fill="#00ff00"/>
<rect x="1096" y="356" width="1" height="84" fill="#000"/>
<rect x="1094" y="419" width="5" height="6" fill="#000"/>
<rect x="1095" y="420" width="3" height="4" fill="#00ff00"/>
<rect x="1104" y="384" width="1" height="51" fill="#000"/>
<rect x="1102" y="391" width="5" height="34" fill="#000"/>
<rect x="1103" y="392" width="3" height="32" fill="#ff0000"/>
<rect x="1112" y="386" width="1" height="20" fill="#000"/>
<rect x="1110" y="392" width="5" height="10" fill="#000"/>
<rect x="1111" y="393" width="3" height="8" fill="#00ff00"/>
<rect x="1120" y="378" width="1" height="34" fill="#000"/>
<rect x="1118" y="384" width="5" height="17" fill="#000"/>
<rect x="1119" y="385" width="3" height="15" fill="#ff0000"/>
<rect x="1128" y="365" width="1" height="33" fill="#000"/>
<rect x="1126" y="385" width="5" height="13" fill="#000"/>
<rect x="1127" y="386" width="3" height="11" fill="#00ff00"/>
<rect x="1136" y="355" width="1" height="54" fill="#000"/>
<rect x="1134" y="396" width="5" height="11" fill="#000"/>
<rect x="1135" y="397" width="3" height="9" fill="#00ff00"/>
<rect x="1144" y="334" width="1" height="72" fill="#000"/>
<rect x="1142" y="376" width="5" height="31" fill="#000"/>
<rect x="1143" y="377" width="3" height="29" fill="#ff0000"/>
<rect x="1152" y="358" width="1" height="24" fill="#000"/>
<rect x="1150" y="364" width="5" height="14" fill="#000"/>
<rect x="1151" y="365" width="3" height="12" fill="#ff0000"/>
<rect x="1160" y="329" width="1" height="15" fill="#000"/>
<rect x="1158" y="341" width="5" height="1" fill="#000"/>
<rect x="1168" y="333" width="1" height="29" fill="#000"/>
<rect x="1166" y="338" width="5" height="17" fill="#000"/>
<rect x="1167" y="339" width="3" height="15" fill="#00ff00"/>
<rect x="1176" y="308" width="1" height="48" fill="#000"/>
<rect x="1174" y="312" width="5" height="43" fill="#000"/>
<rect x="1175" y="313" width="3" height="41" fill="#ff0000"/>
<rect x="1184" y="307" width="1" height="35" fill="#000"/>
<rect x="1182" y="311" width="5" height="29" fill="#000"/>
<rect x="1183" y="312" width="3" height="27" fill="#00ff00"/>
<rect x="1192" y="277" width="1" height="80" fill="#000"/>
<rect x="1190" y="296" width="5" height="44" fill="#000"/>
<rect x="1191" y="297" width="3" height="42" fill="#ff0000"/>
<rect x="1200" y="290" width="1" height="35" fill="#000"/>
<rect x="1198" y="295" width="5" height="28" fill="#000"/>
<rect x="1199" y="296" width="3" height="26" fill="#00ff00"/>
<rect x="1208" y="316" width="1" height="12" fill="#000"/>
<rect x="1206" y="321" width="5" height="3" fill="#000"/>
<rect x="1207" y="322" width="3" height="1" fill="#00ff00"/>
<rect x="1216" y="313" width="1" height="22" fill="#000"/>
<rect x="1214" y="321" width="5" height="3" fill="#000"/>
<rect x="1215" y="322" width="3" height="1" fill="#ff0000"/>
<rect x="1224" y="288" width="1" height="47" fill="#000"/>
<rect x="1222" y="317" width="5" height="6" fill="#000"/>
<rect x="1223" y="318" width="3" height="4" fill="#ff0000"/>
<rect x="1232" y="299" width="1" height="45" fill="#000"/>
<rect x="1230" y="316" width="5" height="22" fill="#000"/>
<rect x="1231" y="317" width="3" height="20" fill="#00ff00"/>
<rect x="1240" y="334" width="1" height="89" fill="#000"/>
<rect x="1238" y="337" width="5" height="47" fill="#000"/>
<rect x="1239" y="338" width="3" height="45" fill="#00ff00"/>
<rect x="1248" y="372" width="1" height="33" fill="#000"/>
<rect x="1246" y="381" width="5" height="13" fill="#000"/>
<rect x="1247" y="382" width="3" height="11" fill="#00ff00"/>
<rect x="1256" y="390" width="1" height="16" fill="#000"/>
<rect x="1254" y="392" width="5" height="7" fill="#000"/>
<rect x="1255" y="393" width="3" height="5" fill="#00ff00"/>
<rect x="1264" y="380" width="1" height="25" fill="#000"/>
<rect x="1262" y="388" width="5" height="13" fill="#000"/>
<rect x="1263" y="389" width="3" height="11" fill="#ff0000"/>
<rect x="1272" y="385" width="1" height="60" fill="#000"/>
<rect x="1270" y="387" width="5" height="18" fill="#000"/>
<rect x="1271" y="388" width="3" height="16" fill="#00ff00"/>
<rect x="1280" y="380" width="1" height="43" fill="#000"/>
<rect x="1278" y="398" width="5" height="9" fill="#000"/>
<rect x="1279" y="399" width="3" height="7" fill="#ff0000"/>
<rect x="1288" y="388" width="1" height="83" fill="#000"/>
<rect x="1286" y="398" width="5" height="59" fill="#000"/>
<rect x="1287" y="399" width="3" height="57" fill="#00ff00"/>
<rect x="1296" y="457" width="1" height="54" fill="#000"/>
<rect x="1294" y="457" width="5" height="48" fill="#000"/>
<rect x="1295" y="458" width="3" height="46" fill="#00ff00"/>
<rect x="1304" y="499" width="1" height="11" fill="#000"/>
<rect x="1302" y="505" width="5" height="6" fill="#000"/>
<rect x="1303" y="506" width="3" height="4" fill="#00ff00"/>
</g>
<path d="M0 29 H3 L1.5 31 Z" fill="#000"/>
<text x="7.8" y="34.2" font-family="'Liberation Sans', Arial, sans-serif" font-size="9.5" fill="#000" textLength="203" lengthAdjust="spacingAndGlyphs" xml:space="preserve" stroke="#000" stroke-width="0.12">EURUSD-,H4  1.04397 1.04429 1.04352 1.04352</text>
<path d="M1312.5 22.5 H1322.5 L1317.5 28 Z" fill="#000"/>
<rect x="0" y="415" width="1651" height="2" fill="#ff0000"/>
<rect x="1645" y="413" width="6" height="6" fill="#ff0000"/>
<rect x="1647" y="415" width="2" height="2" fill="#fff"/>
<rect x="0" y="452" width="1651" height="2" fill="#ff0000"/>
<rect x="1645" y="450" width="6" height="6" fill="#ff0000"/>
<rect x="1647" y="452" width="2" height="2" fill="#fff"/>
<rect x="0" y="487" width="1651" height="2" fill="#ffa500"/>
<rect x="1645" y="485" width="6" height="6" fill="#ffa500"/>
<rect x="1647" y="487" width="2" height="2" fill="#fff"/>
<rect x="0" y="510" width="1651" height="1" fill="#000000"/>
<rect x="0" y="543" width="1651" height="2" fill="#0000ff"/>
<rect x="1645" y="541" width="6" height="6" fill="#0000ff"/>
<rect x="1647" y="543" width="2" height="2" fill="#fff"/>
<rect x="0" y="579" width="1651" height="2" fill="#0000ff"/>
<rect x="1645" y="577" width="6" height="6" fill="#0000ff"/>
<rect x="1647" y="579" width="2" height="2" fill="#fff"/>
<line x1="1224" y1="319.5" x2="1395" y2="541.5" stroke="#52992e" stroke-width="3.4"/>
<path d="M1404.4 553.4 L1387.2 544.7 L1400.6 534 Z" fill="#52992e"/>
<g clip-path="url(#cmacd)">
<rect x="-1" y="652" width="3" height="45" fill="#00ff00"/>
<rect x="7" y="648" width="3" height="49" fill="#00ff00"/>
<rect x="15" y="647" width="3" height="50" fill="#00ff00"/>
<rect x="23" y="642" width="3" height="55" fill="#00ff00"/>
<rect x="31" y="640" width="3" height="57" fill="#00ff00"/>
<rect x="39" y="638" width="3" height="59" fill="#00ff00"/>
<rect x="47" y="638" width="3" height="59" fill="#00ff00"/>
<rect x="55" y="637" width="3" height="60" fill="#00ff00"/>
<rect x="63" y="638" width="3" height="59" fill="#00ff00"/>
<rect x="71" y="643" width="3" height="54" fill="#00ff00"/>
<rect x="79" y="649" width="3" height="48" fill="#00ff00"/>
<rect x="87" y="655" width="3" height="42" fill="#00ff00"/>
<rect x="95" y="658" width="3" height="39" fill="#00ff00"/>
<rect x="103" y="661" width="3" height="36" fill="#00ff00"/>
<rect x="111" y="662" width="3" height="35" fill="#00ff00"/>
<rect x="119" y="664" width="3" height="33" fill="#00ff00"/>
<rect x="127" y="664" width="3" height="33" fill="#00ff00"/>
<rect x="135" y="664" width="3" height="33" fill="#00ff00"/>
<rect x="143" y="664" width="3" height="33" fill="#00ff00"/>
<rect x="151" y="663" width="3" height="34" fill="#00ff00"/>
<rect x="159" y="662" width="3" height="35" fill="#00ff00"/>
<rect x="167" y="664" width="3" height="33" fill="#00ff00"/>
<rect x="175" y="665" width="3" height="32" fill="#00ff00"/>
<rect x="183" y="668" width="3" height="29" fill="#00ff00"/>
<rect x="191" y="668" width="3" height="29" fill="#00ff00"/>
<rect x="199" y="669" width="3" height="28" fill="#00ff00"/>
<rect x="207" y="669" width="3" height="28" fill="#00ff00"/>
<rect x="215" y="670" width="3" height="27" fill="#00ff00"/>
<rect x="223" y="668" width="3" height="29" fill="#00ff00"/>
<rect x="231" y="666" width="3" height="31" fill="#00ff00"/>
<rect x="239" y="665" width="3" height="32" fill="#00ff00"/>
<rect x="247" y="665" width="3" height="32" fill="#00ff00"/>
<rect x="255" y="668" width="3" height="29" fill="#00ff00"/>
<rect x="263" y="670" width="3" height="27" fill="#00ff00"/>
<rect x="271" y="675" width="3" height="22" fill="#00ff00"/>
<rect x="279" y="678" width="3" height="19" fill="#00ff00"/>
<rect x="287" y="680" width="3" height="17" fill="#00ff00"/>
<rect x="295" y="682" width="3" height="15" fill="#00ff00"/>
<rect x="303" y="684" width="3" height="13" fill="#00ff00"/>
<rect x="311" y="687" width="3" height="10" fill="#00ff00"/>
<rect x="319" y="690" width="3" height="7" fill="#00ff00"/>
<rect x="327" y="697" width="3" height="2" fill="#00ff00"/>
<rect x="335" y="697" width="3" height="7" fill="#00ff00"/>
<rect x="343" y="697" width="3" height="11" fill="#00ff00"/>
<rect x="351" y="697" width="3" height="14" fill="#00ff00"/>
<rect x="359" y="697" width="3" height="14" fill="#00ff00"/>
<rect x="367" y="697" width="3" height="13" fill="#00ff00"/>
<rect x="375" y="697" width="3" height="8" fill="#00ff00"/>
<rect x="383" y="697" width="3" height="3" fill="#00ff00"/>
<rect x="391" y="695" width="3" height="2" fill="#00ff00"/>
<rect x="399" y="692" width="3" height="5" fill="#00ff00"/>
<rect x="407" y="689" width="3" height="8" fill="#00ff00"/>
<rect x="415" y="689" width="3" height="8" fill="#00ff00"/>
<rect x="423" y="691" width="3" height="6" fill="#00ff00"/>
<rect x="431" y="691" width="3" height="6" fill="#00ff00"/>
<rect x="439" y="692" width="3" height="5" fill="#00ff00"/>
<rect x="447" y="692" width="3" height="5" fill="#00ff00"/>
<rect x="455" y="692" width="3" height="5" fill="#00ff00"/>
<rect x="463" y="692" width="3" height="5" fill="#00ff00"/>
<rect x="471" y="694" width="3" height="3" fill="#00ff00"/>
<rect x="479" y="696" width="3" height="1" fill="#00ff00"/>
<rect x="487" y="697" width="3" height="3" fill="#00ff00"/>
<rect x="495" y="697" width="3" height="5" fill="#00ff00"/>
<rect x="503" y="697" width="3" height="7" fill="#00ff00"/>
<rect x="511" y="697" width="3" height="10" fill="#00ff00"/>
<rect x="519" y="697" width="3" height="10" fill="#00ff00"/>
<rect x="527" y="697" width="3" height="8" fill="#00ff00"/>
<rect x="535" y="697" width="3" height="8" fill="#00ff00"/>
<rect x="543" y="697" width="3" height="9" fill="#00ff00"/>
<rect x="551" y="697" width="3" height="9" fill="#00ff00"/>
<rect x="559" y="697" width="3" height="5" fill="#00ff00"/>
<rect x="567" y="697" width="3" height="1" fill="#00ff00"/>
<rect x="575" y="697" width="3" height="1" fill="#00ff00"/>
<rect x="583" y="696" width="3" height="1" fill="#00ff00"/>
<rect x="591" y="694" width="3" height="3" fill="#00ff00"/>
<rect x="599" y="696" width="3" height="1" fill="#00ff00"/>
<rect x="607" y="694" width="3" height="3" fill="#00ff00"/>
<rect x="615" y="697" width="3" height="3" fill="#00ff00"/>
<rect x="623" y="697" width="3" height="11" fill="#00ff00"/>
<rect x="631" y="697" width="3" height="16" fill="#00ff00"/>
<rect x="639" y="697" width="3" height="19" fill="#00ff00"/>
<rect x="647" y="697" width="3" height="22" fill="#00ff00"/>
<rect x="655" y="697" width="3" height="28" fill="#00ff00"/>
<rect x="663" y="697" width="3" height="38" fill="#00ff00"/>
<rect x="671" y="697" width="3" height="44" fill="#00ff00"/>
<rect x="679" y="697" width="3" height="52" fill="#00ff00"/>
<rect x="687" y="697" width="3" height="57" fill="#00ff00"/>
<rect x="695" y="697" width="3" height="62" fill="#00ff00"/>
<rect x="703" y="697" width="3" height="68" fill="#00ff00"/>
<rect x="711" y="697" width="3" height="72" fill="#00ff00"/>
<rect x="719" y="697" width="3" height="77" fill="#00ff00"/>
<rect x="727" y="697" width="3" height="79" fill="#00ff00"/>
<rect x="735" y="697" width="3" height="79" fill="#00ff00"/>
<rect x="743" y="697" width="3" height="75" fill="#00ff00"/>
<rect x="751" y="697" width="3" height="73" fill="#00ff00"/>
<rect x="759" y="697" width="3" height="73" fill="#00ff00"/>
<rect x="767" y="697" width="3" height="72" fill="#00ff00"/>
<rect x="775" y="697" width="3" height="69" fill="#00ff00"/>
<rect x="783" y="697" width="3" height="65" fill="#00ff00"/>
<rect x="791" y="697" width="3" height="59" fill="#00ff00"/>
<rect x="799" y="697" width="3" height="54" fill="#00ff00"/>
<rect x="807" y="697" width="3" height="56" fill="#00ff00"/>
<rect x="815" y="697" width="3" height="51" fill="#00ff00"/>
<rect x="823" y="697" width="3" height="47" fill="#00ff00"/>
<rect x="831" y="697" width="3" height="44" fill="#00ff00"/>
<rect x="839" y="697" width="3" height="45" fill="#00ff00"/>
<rect x="847" y="697" width="3" height="46" fill="#00ff00"/>
<rect x="855" y="697" width="3" height="35" fill="#00ff00"/>
<rect x="863" y="697" width="3" height="22" fill="#00ff00"/>
<rect x="871" y="697" width="3" height="14" fill="#00ff00"/>
<rect x="879" y="697" width="3" height="9" fill="#00ff00"/>
<rect x="887" y="697" width="3" height="5" fill="#00ff00"/>
<rect x="895" y="697" width="3" height="5" fill="#00ff00"/>
<rect x="903" y="697" width="3" height="6" fill="#00ff00"/>
<rect x="911" y="697" width="3" height="5" fill="#00ff00"/>
<rect x="919" y="697" width="3" height="5" fill="#00ff00"/>
<rect x="927" y="697" width="3" height="1" fill="#00ff00"/>
<rect x="935" y="695" width="3" height="2" fill="#00ff00"/>
<rect x="943" y="693" width="3" height="4" fill="#00ff00"/>
<rect x="951" y="690" width="3" height="7" fill="#00ff00"/>
<rect x="959" y="690" width="3" height="7" fill="#00ff00"/>
<rect x="967" y="690" width="3" height="7" fill="#00ff00"/>
<rect x="975" y="688" width="3" height="9" fill="#00ff00"/>
<rect x="983" y="685" width="3" height="12" fill="#00ff00"/>
<rect x="991" y="683" width="3" height="14" fill="#00ff00"/>
<rect x="999" y="682" width="3" height="15" fill="#00ff00"/>
<rect x="1007" y="683" width="3" height="14" fill="#00ff00"/>
<rect x="1015" y="684" width="3" height="13" fill="#00ff00"/>
<rect x="1023" y="687" width="3" height="10" fill="#00ff00"/>
<rect x="1031" y="689" width="3" height="8" fill="#00ff00"/>
<rect x="1039" y="691" width="3" height="6" fill="#00ff00"/>
<rect x="1047" y="687" width="3" height="10" fill="#00ff00"/>
<rect x="1055" y="684" width="3" height="13" fill="#00ff00"/>
<rect x="1063" y="682" width="3" height="15" fill="#00ff00"/>
<rect x="1071" y="681" width="3" height="16" fill="#00ff00"/>
<rect x="1079" y="686" width="3" height="11" fill="#00ff00"/>
<rect x="1087" y="689" width="3" height="8" fill="#00ff00"/>
<rect x="1095" y="692" width="3" height="5" fill="#00ff00"/>
<rect x="1103" y="693" width="3" height="4" fill="#00ff00"/>
<rect x="1111" y="694" width="3" height="3" fill="#00ff00"/>
<rect x="1119" y="694" width="3" height="3" fill="#00ff00"/>
<rect x="1127" y="694" width="3" height="3" fill="#00ff00"/>
<rect x="1135" y="695" width="3" height="2" fill="#00ff00"/>
<rect x="1143" y="694" width="3" height="3" fill="#00ff00"/>
<rect x="1151" y="693" width="3" height="4" fill="#00ff00"/>
<rect x="1159" y="690" width="3" height="7" fill="#00ff00"/>
<rect x="1167" y="689" width="3" height="8" fill="#00ff00"/>
<rect x="1175" y="685" width="3" height="12" fill="#00ff00"/>
<rect x="1183" y="684" width="3" height="13" fill="#00ff00"/>
<rect x="1191" y="681" width="3" height="16" fill="#00ff00"/>
<rect x="1199" y="680" width="3" height="17" fill="#00ff00"/>
<rect x="1207" y="680" width="3" height="17" fill="#00ff00"/>
<rect x="1215" y="680" width="3" height="17" fill="#00ff00"/>
<rect x="1223" y="679" width="3" height="18" fill="#00ff00"/>
<rect x="1231" y="681" width="3" height="16" fill="#00ff00"/>
<rect x="1239" y="685" width="3" height="12" fill="#00ff00"/>
<rect x="1247" y="689" width="3" height="8" fill="#00ff00"/>
<rect x="1255" y="693" width="3" height="4" fill="#00ff00"/>
<rect x="1263" y="695" width="3" height="2" fill="#00ff00"/>
<rect x="1271" y="697" width="3" height="2" fill="#00ff00"/>
<rect x="1279" y="697" width="3" height="3" fill="#00ff00"/>
<rect x="1287" y="697" width="3" height="9" fill="#00ff00"/>
<rect x="1295" y="697" width="3" height="16" fill="#00ff00"/>
<rect x="1303" y="697" width="3" height="22" fill="#00ff00"/>
<polyline points="0,665.5 6.8,663.5 15.3,661.8 23.9,658 32.4,654.6 40.9,650.2 49.4,646.8 57.9,643.5 66.5,641.7 75,641 83.5,641.8 95.4,643 103.9,646.1 112.5,648.2 121,651.9 129.5,655.8 138,658.7 146.5,660.6 153.4,661.8 159.4,662.2 176.4,663.7 192.4,664.6 200.9,665.6 216,666.5 232.9,667.5 271.6,667.8 280,669 289.5,671.2 297,672.2 304.5,674.6 312.1,677.3 319.6,679.1 327.2,682.5 334.7,685.9 342.2,689.1 349.8,692.9 357.3,696.1 366.7,699.9 376.2,702.3 385.6,703.6 398.8,703.6 408.2,702.3 417.6,699.9 425.2,697.2 432.7,695.4 444,692.9 455.3,691.4 471.3,691 478.8,692 488.3,692.9 503.3,694.8 512.8,697.6 522.2,698.6 531.6,700.8 539.2,701.8 548.6,703.6 567.4,703.6 584.4,702.9 593.8,700.4 603.2,699.1 610.8,698 624,698 633.4,699.1 640.9,701 648.5,704.2 657.9,708 667.3,713.1 676.7,720.2 686.2,727.8 695.6,734.4 705,740 714.4,747.6 723.9,755.1 735.2,761.7 744.6,765.8 754,769.2 761.5,770.2 787.9,770.2 798.3,765.8 807.7,762.1 817.1,760.2 826.5,756 836,751.9 845.4,748.9 854.8,745.7 864.2,741.3 873.7,735.3 883.1,729.3 892.5,722.5 901.9,718 911.3,711.8 920.8,707.4 930.2,703.3 937.7,701 945.3,700.4 958.5,697.6 967.9,696.1 977.3,694.2 986.7,692 996.2,689.5 1005.6,687.3 1016.9,685.9 1033.9,685.9 1056.5,685.4 1079.1,684.8 1095.1,685.9 1112,687.3 1127.1,688.6 1136.5,691.6 1146,692.3 1174.2,692.3 1185.5,691 1193.1,690.1 1208.2,685.9 1217.6,685.4 1227,682.5 1234.5,681.8 1247.7,681.8 1257.2,683.1 1268.5,685.9 1279.8,689.1 1291.1,693.5 1304.3,699.1" fill="none" stroke="#ff0000" stroke-width="2" stroke-linejoin="round"/>
</g>
<text x="-4" y="639.8" font-family="'Liberation Sans', Arial, sans-serif" font-size="9.7" fill="#000" textLength="154" lengthAdjust="spacingAndGlyphs" xml:space="preserve" stroke="#000" stroke-width="0.12">MACD(12,26,9) -0.001955 -0.000232</text>
<g clip-path="url(#crsi)">
<line x1="0" y1="814.5" x2="1651" y2="814.5" stroke="#000" stroke-width="1" stroke-dasharray="3 3"/>
<line x1="0" y1="854.5" x2="1651" y2="854.5" stroke="#000" stroke-width="1" stroke-dasharray="3 3"/>
<line x1="0" y1="902.5" x2="1651" y2="902.5" stroke="#000" stroke-width="1" stroke-dasharray="3 3"/>
<polyline points="0,820.8 7.5,820.8 16,825.8 24.5,818.9 33,823.6 40.5,820.8 47.1,824.5 55.6,824.5 64.1,832.1 71.6,840.5 80.1,849 88.6,849 96.1,845.3 103.7,842.4 111.2,840 120.6,843 128.2,839.6 135.7,835.8 147,835.8 152.7,834.5 160.2,829.6 167.7,837.1 175.3,846.8 185.6,846.8 192.2,841.9 201.7,841.9 207.3,839 216.7,839 225.2,833.4 233.7,830.2 240.3,830.2 248.8,833.4 256.3,842.8 263.9,848.5 272.3,857.1 280.8,850.9 288.4,850.9 295.9,849.6 304.4,856.2 312.9,859 319.4,859.8 327.9,877.9 336.4,875 352.4,875 359.9,860.3 368.4,857.5 376.9,844.7 385.4,840.5 392.9,840 402.3,839 408,839 416.5,850.3 425,855.6 432.5,852.8 441.9,850.9 449.5,850.3 457,845.8 464.5,850 473,862.8 480.6,863.2 489,865.4 495.6,867.9 504.1,865 512.6,873 520.1,858.4 528.6,854.7 536.2,858.4 543.7,861.6 552.2,860.3 560.7,844.7 568.2,843.9 575.7,852.8 584.2,852.8 591.8,849 600.2,856.6 607.8,850 616.3,866.9 623.8,874.5 632.3,873.5 639.8,869.8 647.3,870.7 655.8,879.2 663.3,885.8 671.8,885.8 679.4,888.6 687.8,888.6 696.3,892.4 704.8,894.8 712.3,895.2 718.9,897.1 727.4,895.6 736.8,889.9 744.4,876.3 751.9,880.1 759.5,883.9 768.9,883.9 776.4,876 784,874.8 792.4,866.5 800,867.9 808.5,880.1 817,862.8 826.4,862.8 833,865.4 841.4,873 848,874.1 855.6,847.1 864.1,843.9 871.6,844.7 879.1,850 887.6,850 896.1,856.6 902.7,858.1 911.2,855.2 920.6,854.7 928.1,849 939.4,850 950.7,846.8 960.2,851.8 967.7,851.8 977.1,848.1 983.7,843.9 999.7,844.7 1007.3,850 1015.8,850 1024.2,856.6 1031.8,857.9 1039.3,856.9 1047.8,839.6 1057.2,843.9 1072.3,843.9 1079.8,859.8 1090.2,860.9 1096.8,860.3 1103.4,855.2 1113.8,856 1120.3,852.8 1127,855.2 1136.4,857.1 1144.9,850 1152.4,847.1 1159.9,843.9 1167.5,845.8 1175.9,838.7 1184.4,845.8 1192,838.7 1200.4,844.7 1216.8,844.9 1217.9,843.8 1224.6,843.8 1232,849 1240.2,860.6 1244.7,861.3 1252.2,863.5 1259.6,863.9 1262.6,861.7 1266.3,861.7 1270.8,864.7 1276.8,864.7 1281.2,863.9 1287.9,874.7 1295.4,881.8 1304.7,881.8" fill="none" stroke="#1e90ff" stroke-width="2" stroke-linejoin="round"/>
</g>
<text x="-3" y="797.7" font-family="'Liberation Sans', Arial, sans-serif" font-size="9.7" fill="#000" textLength="67" lengthAdjust="spacingAndGlyphs" xml:space="preserve" stroke="#000" stroke-width="0.12">RSI(14) 29.4278</text>
<rect x="1697" y="20" width="1" height="919" fill="#e0e0e0"/>
<rect x="0" y="22" width="1652" height="1" fill="#000"/>
<rect x="0" y="625" width="1652" height="1" fill="#000"/>
<rect x="0" y="627" width="1652" height="1" fill="#000"/>
<rect x="0" y="783" width="1652" height="1" fill="#000"/>
<rect x="0" y="785" width="1652" height="1" fill="#000"/>
<rect x="0" y="923" width="1652" height="1" fill="#000"/>
<rect x="1651" y="22" width="1" height="604" fill="#000"/>
<rect x="1651" y="627" width="1" height="157" fill="#000"/>
<rect x="1651" y="785" width="1" height="139" fill="#000"/>
<rect x="1652" y="28" width="2" height="1" fill="#000"/>
<text x="1657.5" y="31.5" font-family="'Liberation Sans', Arial, sans-serif" font-size="9.7" fill="#000" textLength="33" lengthAdjust="spacingAndGlyphs" xml:space="preserve" stroke="#000" stroke-width="0.12">1.08045</text>
<rect x="1652" y="61" width="2" height="1" fill="#000"/>
<text x="1657.5" y="64.5" font-family="'Liberation Sans', Arial, sans-serif" font-size="9.7" fill="#000" textLength="33" lengthAdjust="spacingAndGlyphs" xml:space="preserve" stroke="#000" stroke-width="0.12">1.07790</text>
<rect x="1652" y="94" width="2" height="1" fill="#000"/>
<text x="1657.5" y="97.5" font-family="'Liberation Sans', Arial, sans-serif" font-size="9.7" fill="#000" textLength="33" lengthAdjust="spacingAndGlyphs" xml:space="preserve" stroke="#000" stroke-width="0.12">1.07540</text>
<rect x="1652" y="127" width="2" height="1" fill="#000"/>
<text x="1657.5" y="130.5" font-family="'Liberation Sans', Arial, sans-serif" font-size="9.7" fill="#000" textLength="33" lengthAdjust="spacingAndGlyphs" xml:space="preserve" stroke="#000" stroke-width="0.12">1.07285</text>
<rect x="1652" y="160" width="2" height="1" fill="#000"/>
<text x="1657.5" y="163.5" font-family="'Liberation Sans', Arial, sans-serif" font-size="9.7" fill="#000" textLength="33" lengthAdjust="spacingAndGlyphs" xml:space="preserve" stroke="#000" stroke-width="0.12">1.07030</text>
<rect x="1652" y="193" width="2" height="1" fill="#000"/>
<text x="1657.5" y="196.5" font-family="'Liberation Sans', Arial, sans-serif" font-size="9.7" fill="#000" textLength="33" lengthAdjust="spacingAndGlyphs" xml:space="preserve" stroke="#000" stroke-width="0.12">1.06780</text>
<rect x="1652" y="226" width="2" height="1" fill="#000"/>
<text x="1657.5" y="229.5" font-family="'Liberation Sans', Arial, sans-serif" font-size="9.7" fill="#000" textLength="33" lengthAdjust="spacingAndGlyphs" xml:space="preserve" stroke="#000" stroke-width="0.12">1.06525</text>
<rect x="1652" y="259" width="2" height="1" fill="#000"/>
<text x="1657.5" y="262.5" font-family="'Liberation Sans', Arial, sans-serif" font-size="9.7" fill="#000" textLength="33" lengthAdjust="spacingAndGlyphs" xml:space="preserve" stroke="#000" stroke-width="0.12">1.06270</text>
<rect x="1652" y="292" width="2" height="1" fill="#000"/>
<text x="1657.5" y="295.5" font-family="'Liberation Sans', Arial, sans-serif" font-size="9.7" fill="#000" textLength="33" lengthAdjust="spacingAndGlyphs" xml:space="preserve" stroke="#000" stroke-width="0.12">1.06020</text>
<rect x="1652" y="325" width="2" height="1" fill="#000"/>
<text x="1657.5" y="328.5" font-family="'Liberation Sans', Arial, sans-serif" font-size="9.7" fill="#000" textLength="33" lengthAdjust="spacingAndGlyphs" xml:space="preserve" stroke="#000" stroke-width="0.12">1.05765</text>
<rect x="1652" y="358" width="2" height="1" fill="#000"/>
<text x="1657.5" y="361.5" font-family="'Liberation Sans', Arial, sans-serif" font-size="9.7" fill="#000" textLength="33" lengthAdjust="spacingAndGlyphs" xml:space="preserve" stroke="#000" stroke-width="0.12">1.05515</text>
<rect x="1652" y="391" width="2" height="1" fill="#000"/>
<text x="1657.5" y="394.5" font-family="'Liberation Sans', Arial, sans-serif" font-size="9.7" fill="#000" textLength="33" lengthAdjust="spacingAndGlyphs" xml:space="preserve" stroke="#000" stroke-width="0.12">1.05260</text>
<rect x="1652" y="424" width="2" height="1" fill="#000"/>
<text x="1657.5" y="427.5" font-family="'Liberation Sans', Arial, sans-serif" font-size="9.7" fill="#000" textLength="33" lengthAdjust="spacingAndGlyphs" xml:space="preserve" stroke="#000" stroke-width="0.12">1.05005</text>
<rect x="1652" y="457" width="2" height="1" fill="#000"/>
<text x="1657.5" y="460.5" font-family="'Liberation Sans', Arial, sans-serif" font-size="9.7" fill="#000" textLength="33" lengthAdjust="spacingAndGlyphs" xml:space="preserve" stroke="#000" stroke-width="0.12">1.04750</text>
<rect x="1652" y="490" width="2" height="1" fill="#000"/>
<text x="1657.5" y="493.5" font-family="'Liberation Sans', Arial, sans-serif" font-size="9.7" fill="#000" textLength="33" lengthAdjust="spacingAndGlyphs" xml:space="preserve" stroke="#000" stroke-width="0.12">1.04495</text>
<rect x="1652" y="523" width="2" height="1" fill="#000"/>
<text x="1657.5" y="526.5" font-family="'Liberation Sans', Arial, sans-serif" font-size="9.7" fill="#000" textLength="33" lengthAdjust="spacingAndGlyphs" xml:space="preserve" stroke="#000" stroke-width="0.12">1.04245</text>
<rect x="1652" y="556" width="2" height="1" fill="#000"/>
<text x="1657.5" y="559.5" font-family="'Liberation Sans', Arial, sans-serif" font-size="9.7" fill="#000" textLength="33" lengthAdjust="spacingAndGlyphs" xml:space="preserve" stroke="#000" stroke-width="0.12">1.03995</text>
<rect x="1652" y="589" width="2" height="1" fill="#000"/>
<text x="1657.5" y="592.5" font-family="'Liberation Sans', Arial, sans-serif" font-size="9.7" fill="#000" textLength="33" lengthAdjust="spacingAndGlyphs" xml:space="preserve" stroke="#000" stroke-width="0.12">1.03740</text>
<rect x="1652" y="622" width="2" height="1" fill="#000"/>
<text x="1657.5" y="625.5" font-family="'Liberation Sans', Arial, sans-serif" font-size="9.7" fill="#000" textLength="33" lengthAdjust="spacingAndGlyphs" xml:space="preserve" stroke="#000" stroke-width="0.12">1.03490</text>
<rect x="1652" y="629" width="2" height="1" fill="#000"/>
<text x="1655" y="638" font-family="'Liberation Sans', Arial, sans-serif" font-size="9.7" fill="#000" textLength="38" lengthAdjust="spacingAndGlyphs" xml:space="preserve" stroke="#000" stroke-width="0.12">0.006359</text>
<rect x="1652" y="697" width="2" height="1" fill="#000"/>
<text x="1655" y="701" font-family="'Liberation Sans', Arial, sans-serif" font-size="9.7" fill="#000" textLength="18" lengthAdjust="spacingAndGlyphs" xml:space="preserve" stroke="#000" stroke-width="0.12">0.00</text>
<rect x="1652" y="782" width="2" height="1" fill="#000"/>
<text x="1655" y="780" font-family="'Liberation Sans', Arial, sans-serif" font-size="9.7" fill="#000" textLength="42" lengthAdjust="spacingAndGlyphs" xml:space="preserve" stroke="#000" stroke-width="0.12">-0.007949</text>
<rect x="1652" y="787" width="2" height="1" fill="#000"/>
<text x="1655.5" y="796" font-family="'Liberation Sans', Arial, sans-serif" font-size="9.7" fill="#000" textLength="15" lengthAdjust="spacingAndGlyphs" xml:space="preserve" stroke="#000" stroke-width="0.12">100</text>
<rect x="1652" y="814" width="2" height="1" fill="#000"/>
<text x="1655.5" y="818" font-family="'Liberation Sans', Arial, sans-serif" font-size="9.7" fill="#000" textLength="10" lengthAdjust="spacingAndGlyphs" xml:space="preserve" stroke="#000" stroke-width="0.12">80</text>
<rect x="1652" y="854" width="2" height="1" fill="#000"/>
<text x="1655.5" y="858" font-family="'Liberation Sans', Arial, sans-serif" font-size="9.7" fill="#000" textLength="10" lengthAdjust="spacingAndGlyphs" xml:space="preserve" stroke="#000" stroke-width="0.12">50</text>
<rect x="1652" y="902" width="2" height="1" fill="#000"/>
<text x="1655.5" y="906" font-family="'Liberation Sans', Arial, sans-serif" font-size="9.7" fill="#000" textLength="10" lengthAdjust="spacingAndGlyphs" xml:space="preserve" stroke="#000" stroke-width="0.12">15</text>
<rect x="1652" y="921" width="2" height="1" fill="#000"/>
<text x="1655.5" y="920" font-family="'Liberation Sans', Arial, sans-serif" font-size="9.7" fill="#000" textLength="5" lengthAdjust="spacingAndGlyphs" xml:space="preserve" stroke="#000" stroke-width="0.12">0</text>
<rect x="1653" y="410" width="41" height="11" fill="#ff0000"/>
<text x="1657.5" y="418.5" font-family="'Liberation Sans', Arial, sans-serif" font-size="9.7" fill="#fff" textLength="33" lengthAdjust="spacingAndGlyphs" xml:space="preserve" stroke="#fff" stroke-width="0.12">1.05070</text>
<rect x="1653" y="447" width="41" height="11" fill="#ff0000"/>
<text x="1657.5" y="455.5" font-family="'Liberation Sans', Arial, sans-serif" font-size="9.7" fill="#fff" textLength="33" lengthAdjust="spacingAndGlyphs" xml:space="preserve" stroke="#fff" stroke-width="0.12">1.04787</text>
<rect x="1653" y="482" width="41" height="11" fill="#ffa500"/>
<text x="1657.5" y="490.5" font-family="'Liberation Sans', Arial, sans-serif" font-size="9.7" fill="#fff" textLength="33" lengthAdjust="spacingAndGlyphs" xml:space="preserve" stroke="#fff" stroke-width="0.12">1.04519</text>
<rect x="1653" y="505" width="41" height="11" fill="#000000"/>
<text x="1657.5" y="513.5" font-family="'Liberation Sans', Arial, sans-serif" font-size="9.7" fill="#fff" textLength="33" lengthAdjust="spacingAndGlyphs" xml:space="preserve" stroke="#fff" stroke-width="0.12">1.04352</text>
<rect x="1653" y="538" width="41" height="11" fill="#0000ff"/>
<text x="1657.5" y="546.5" font-family="'Liberation Sans', Arial, sans-serif" font-size="9.7" fill="#fff" textLength="33" lengthAdjust="spacingAndGlyphs" xml:space="preserve" stroke="#fff" stroke-width="0.12">1.04090</text>
<rect x="1653" y="574" width="41" height="11" fill="#0000ff"/>
<text x="1657.5" y="582.5" font-family="'Liberation Sans', Arial, sans-serif" font-size="9.7" fill="#fff" textLength="33" lengthAdjust="spacingAndGlyphs" xml:space="preserve" stroke="#fff" stroke-width="0.12">1.03815</text>
<text x="-9" y="936" font-family="'Liberation Sans', Arial, sans-serif" font-size="9.7" fill="#000" textLength="54" lengthAdjust="spacingAndGlyphs" xml:space="preserve" stroke="#000" stroke-width="0.12">23 May 2022</text>
<rect x="56" y="924" width="1" height="3" fill="#000"/>
<text x="55.5" y="936" font-family="'Liberation Sans', Arial, sans-serif" font-size="9.7" fill="#000" textLength="57" lengthAdjust="spacingAndGlyphs" xml:space="preserve" stroke="#000" stroke-width="0.12">24 May 20:00</text>
<rect x="120" y="924" width="1" height="3" fill="#000"/>
<text x="119.5" y="936" font-family="'Liberation Sans', Arial, sans-serif" font-size="9.7" fill="#000" textLength="57" lengthAdjust="spacingAndGlyphs" xml:space="preserve" stroke="#000" stroke-width="0.12">26 May 04:00</text>
<rect x="184" y="924" width="1" height="3" fill="#000"/>
<text x="183.5" y="936" font-family="'Liberation Sans', Arial, sans-serif" font-size="9.7" fill="#000" textLength="57" lengthAdjust="spacingAndGlyphs" xml:space="preserve" stroke="#000" stroke-width="0.12">27 May 12:00</text>
<rect x="248" y="924" width="1" height="3" fill="#000"/>
<text x="247.5" y="936" font-family="'Liberation Sans', Arial, sans-serif" font-size="9.7" fill="#000" textLength="57" lengthAdjust="spacingAndGlyphs" xml:space="preserve" stroke="#000" stroke-width="0.12">30 May 20:00</text>
<rect x="312" y="924" width="1" height="3" fill="#000"/>
<text x="311.5" y="936" font-family="'Liberation Sans', Arial, sans-serif" font-size="9.7" fill="#000" textLength="48" lengthAdjust="spacingAndGlyphs" xml:space="preserve" stroke="#000" stroke-width="0.12">1 Jun 04:00</text>
<rect x="376" y="924" width="1" height="3" fill="#000"/>
<text x="375.5" y="936" font-family="'Liberation Sans', Arial, sans-serif" font-size="9.7" fill="#000" textLength="48" lengthAdjust="spacingAndGlyphs" xml:space="preserve" stroke="#000" stroke-width="0.12">2 Jun 12:00</text>
<rect x="440" y="924" width="1" height="3" fill="#000"/>
<text x="439.5" y="936" font-family="'Liberation Sans', Arial, sans-serif" font-size="9.7" fill="#000" textLength="48" lengthAdjust="spacingAndGlyphs" xml:space="preserve" stroke="#000" stroke-width="0.12">5 Jun 23:00</text>
<rect x="504" y="924" width="1" height="3" fill="#000"/>
<text x="503.5" y="936" font-family="'Liberation Sans', Arial, sans-serif" font-size="9.7" fill="#000" textLength="48" lengthAdjust="spacingAndGlyphs" xml:space="preserve" stroke="#000" stroke-width="0.12">7 Jun 04:00</text>
<rect x="568" y="924" width="1" height="3" fill="#000"/>
<text x="567.5" y="936" font-family="'Liberation Sans', Arial, sans-serif" font-size="9.7" fill="#000" textLength="48" lengthAdjust="spacingAndGlyphs" xml:space="preserve" stroke="#000" stroke-width="0.12">8 Jun 12:00</text>
<rect x="632" y="924" width="1" height="3" fill="#000"/>
<text x="631.5" y="936" font-family="'Liberation Sans', Arial, sans-serif" font-size="9.7" fill="#000" textLength="48" lengthAdjust="spacingAndGlyphs" xml:space="preserve" stroke="#000" stroke-width="0.12">9 Jun 20:00</text>
<rect x="696" y="924" width="1" height="3" fill="#000"/>
<text x="695.5" y="936" font-family="'Liberation Sans', Arial, sans-serif" font-size="9.7" fill="#000" textLength="53" lengthAdjust="spacingAndGlyphs" xml:space="preserve" stroke="#000" stroke-width="0.12">13 Jun 04:00</text>
<rect x="760" y="924" width="1" height="3" fill="#000"/>
<text x="759.5" y="936" font-family="'Liberation Sans', Arial, sans-serif" font-size="9.7" fill="#000" textLength="53" lengthAdjust="spacingAndGlyphs" xml:space="preserve" stroke="#000" stroke-width="0.12">14 Jun 12:00</text>
<rect x="824" y="924" width="1" height="3" fill="#000"/>
<text x="823.5" y="936" font-family="'Liberation Sans', Arial, sans-serif" font-size="9.7" fill="#000" textLength="53" lengthAdjust="spacingAndGlyphs" xml:space="preserve" stroke="#000" stroke-width="0.12">15 Jun 20:00</text>
<rect x="888" y="924" width="1" height="3" fill="#000"/>
<text x="887.5" y="936" font-family="'Liberation Sans', Arial, sans-serif" font-size="9.7" fill="#000" textLength="53" lengthAdjust="spacingAndGlyphs" xml:space="preserve" stroke="#000" stroke-width="0.12">17 Jun 04:00</text>
<rect x="952" y="924" width="1" height="3" fill="#000"/>
<text x="951.5" y="936" font-family="'Liberation Sans', Arial, sans-serif" font-size="9.7" fill="#000" textLength="53" lengthAdjust="spacingAndGlyphs" xml:space="preserve" stroke="#000" stroke-width="0.12">20 Jun 12:00</text>
<rect x="1016" y="924" width="1" height="3" fill="#000"/>
<text x="1015.5" y="936" font-family="'Liberation Sans', Arial, sans-serif" font-size="9.7" fill="#000" textLength="53" lengthAdjust="spacingAndGlyphs" xml:space="preserve" stroke="#000" stroke-width="0.12">21 Jun 20:00</text>
<rect x="1080" y="924" width="1" height="3" fill="#000"/>
<text x="1079.5" y="936" font-family="'Liberation Sans', Arial, sans-serif" font-size="9.7" fill="#000" textLength="53" lengthAdjust="spacingAndGlyphs" xml:space="preserve" stroke="#000" stroke-width="0.12">23 Jun 04:00</text>
<rect x="1144" y="924" width="1" height="3" fill="#000"/>
<text x="1143.5" y="936" font-family="'Liberation Sans', Arial, sans-serif" font-size="9.7" fill="#000" textLength="53" lengthAdjust="spacingAndGlyphs" xml:space="preserve" stroke="#000" stroke-width="0.12">24 Jun 12:00</text>
<rect x="1208" y="924" width="1" height="3" fill="#000"/>
<text x="1207.5" y="936" font-family="'Liberation Sans', Arial, sans-serif" font-size="9.7" fill="#000" textLength="53" lengthAdjust="spacingAndGlyphs" xml:space="preserve" stroke="#000" stroke-width="0.12">27 Jun 20:00</text>
<rect x="1272" y="924" width="1" height="3" fill="#000"/>
<text x="1271.5" y="936" font-family="'Liberation Sans', Arial, sans-serif" font-size="9.7" fill="#000" textLength="53" lengthAdjust="spacingAndGlyphs" xml:space="preserve" stroke="#000" stroke-width="0.12">29 Jun 04:00</text>
</svg>
</body></html>
